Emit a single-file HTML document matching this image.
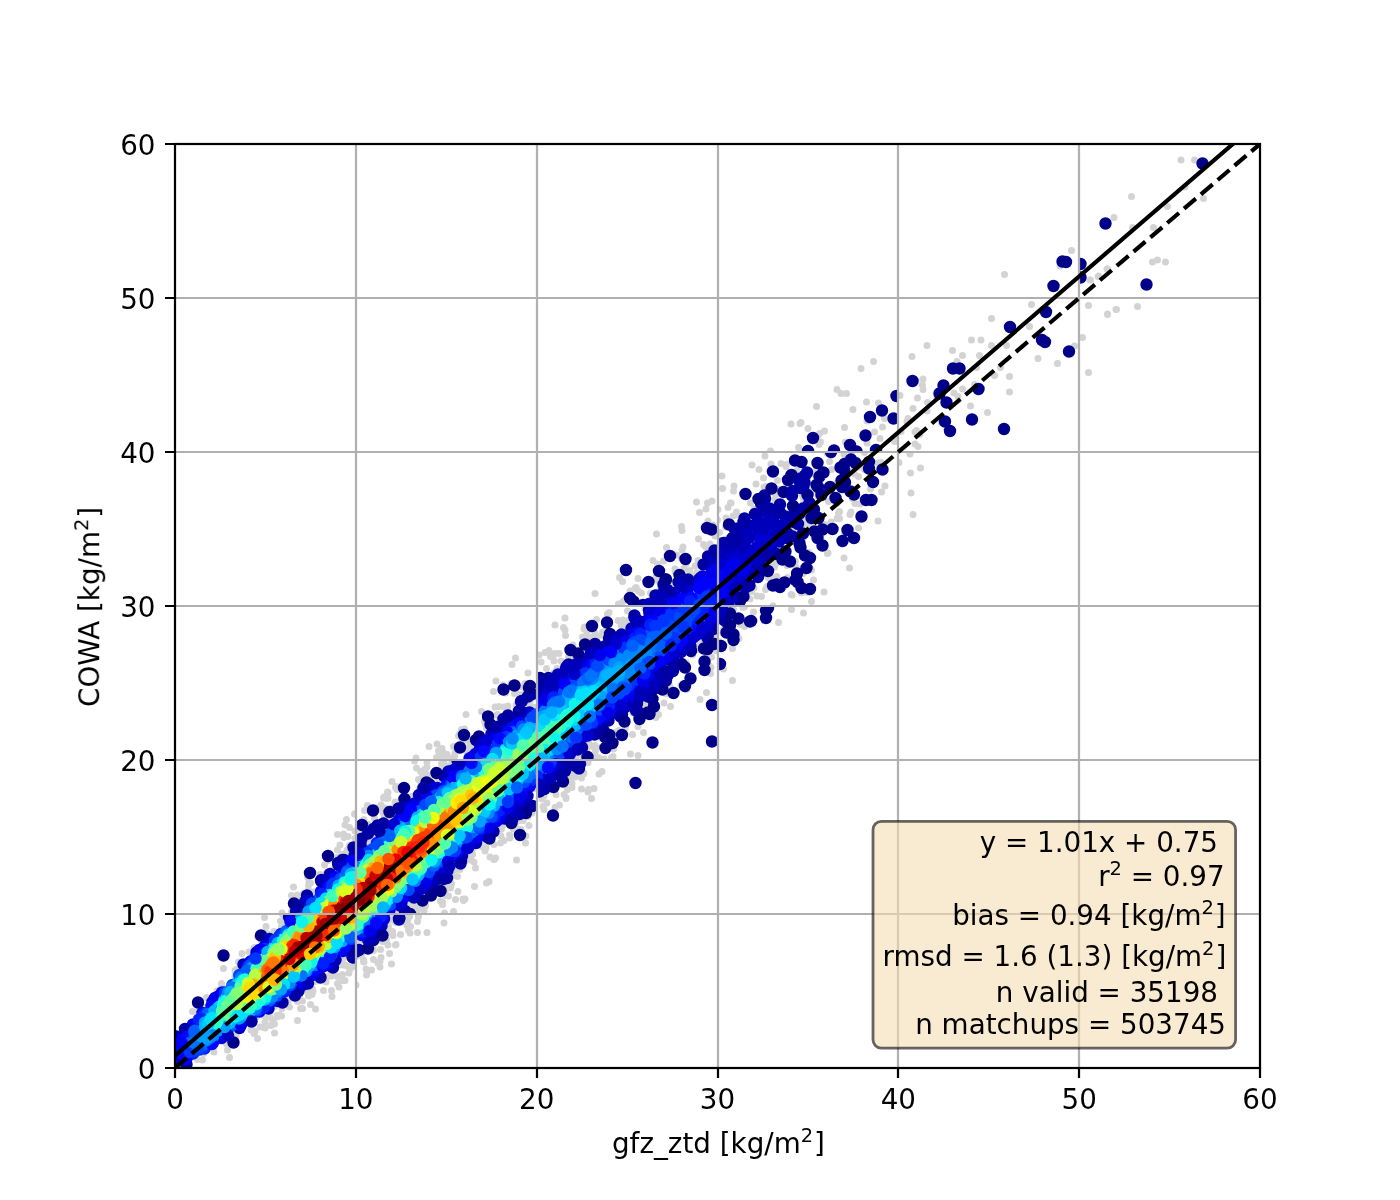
<!DOCTYPE html>
<html><head><meta charset="utf-8"><title>COWA vs gfz_ztd</title>
<style>
html,body{margin:0;padding:0;background:#fff;width:1400px;height:1200px;overflow:hidden}
svg{display:block}
text{font-family:"DejaVu Sans","Liberation Sans",sans-serif;font-size:27.78px;fill:#000}
.t{opacity:.999}
.s{font-size:19.45px}
</style></head><body>
<svg width="1400" height="1200" viewBox="0 0 1400 1200">
<defs><clipPath id="ax"><rect x="175" y="144" width="1085" height="924"/></clipPath></defs>
<rect width="1400" height="1200" fill="#fff"/>
<g clip-path="url(#ax)" fill="none" stroke-linecap="round">
<defs><clipPath id="t0"><rect x="175" y="914" width="181" height="154"/></clipPath><clipPath id="t1"><rect x="175" y="760" width="181" height="154"/></clipPath><clipPath id="t6"><rect x="356" y="914" width="181" height="154"/></clipPath><clipPath id="t7"><rect x="356" y="760" width="181" height="154"/></clipPath><clipPath id="t8"><rect x="356" y="606" width="181" height="154"/></clipPath><clipPath id="t13"><rect x="537" y="760" width="181" height="154"/></clipPath><clipPath id="t14"><rect x="537" y="606" width="181" height="154"/></clipPath><clipPath id="t15"><rect x="537" y="452" width="181" height="154"/></clipPath><clipPath id="t20"><rect x="718" y="606" width="180" height="154"/></clipPath><clipPath id="t21"><rect x="718" y="452" width="180" height="154"/></clipPath><clipPath id="t22"><rect x="718" y="298" width="180" height="154"/></clipPath><clipPath id="t27"><rect x="898" y="452" width="181" height="154"/></clipPath><clipPath id="t28"><rect x="898" y="298" width="181" height="154"/></clipPath><clipPath id="t29"><rect x="898" y="144" width="181" height="154"/></clipPath><clipPath id="t34"><rect x="1079" y="298" width="181" height="154"/></clipPath><clipPath id="t35"><rect x="1079" y="144" width="181" height="154"/></clipPath></defs>
<g stroke-width="12.4">
<g clip-path="url(#t0)">
<path stroke="#d3d3d3" stroke-width="7" d="M178 1065.5h0m4.5 0h0m9.5-8.5h0m.5-45.5h0m1.5 45.5h0m1.5-.5h0m2 3h0m1-48.5h0m4 49h0m1-6.5h0m1-46h0m1.5 1.5h0m.5-11.5h0m6 50.5h0m1.5 4h0m3-61h0m3.5-1.5h0m1-6h0m2-15h0m0 19.5h0m1.5 54h0m1.5 2h0m1 6h0m.5-62.5h0m1.5 56.5h0m0 13.5h0m2.5-23h0m2.5-5h0m.5-59h0m0 5.5h0m0 .5h0m1-2.5h0m0 5h0m0 57h0m.5-66.5h0m2-7.5h0m1.5 3.5h0m2-12h0m7-1.5h0m2 78h0m.5-4.5h0m2.5-77.5h0m0 85.5h0m.5-86h0m.5 84h0m1.5-14.5h0m1-80h0m0 101.5h0m2.5-11.5h0m1.5-84.5h0m2 73h0m1-98h0m.5 104.5h0m0 6h0m.5-95h0m.5-6.5h0m1 90.5h0m1-83h0m0 82h0m1.5-3.5h0m0 4h0m.5-5h0m1 14h0m1.5-5.5h0m1.5-88.5h0m.5 75h0m0 17.5h0m0 9h0m2.5-17.5h0m0 1.5h0m2.5-2h0m1-94h0m1 5.5h0m0 89.5h0m.5-7.5h0m.5-94.5h0m1 12.5h0m1.5-1.5h0m1-7h0m1.5 83.5h0m.5-3.5h0m0 3.5h0m1.5 5.5h0m7.5-9h0m.5 3.5h0m0 19h0m2-25h0m0 1h0m1 12h0m2-7.5h0m0 7.5h0m3-20h0m2.5 4.5h0m.5 3h0m1.5-4.5h0m.5 13h0m1.5-10h0m.5-5.5h0m.5 2h0m2-9.5h0m.5 27.5h0m1-28.5h0m.5 .5h0m5-6.5h0m1.5 16h0m2.5-8.5h0m1-5.5h0m1 0h0m3-5h0m.5 4.5h0m0 14.5h0m.5 6h0m1-21h0m4.5 1h0m0 7h0m1.5 3.5h0m2-22.5h0m.5-4h0m1 4.5h0m0 9.5h0m0 6h0m1.5-23h0m0 7h0m1 16h0m1-15h0m2 1h0m1 6.5h0m1-4h0m2-2h0m2.5-3h0"/>
<path stroke="#0000d1" d="M176 1056h0m1.5 3h0m3 1h0m41-22h0m38-88h0"/>
<path stroke="#0020ff" d="M190 1053.5h0m1 .5h0m2-.5h0m11.5-5h0m51-91h0"/>
<path stroke="#0000a4" d="M176.5 1036.5h0m122-45.5h0m22-13.5h0m12.5-10h0m19.5-10.5h0"/>
<path stroke="#0000ed" d="M177.5 1048.5h0m5.5-11.5h0m10-12.5h0m22-26.5h0m97.5-23h0m2-2.5h0"/>
<path stroke="#000089" d="M198 1002.5h0m25.5-47h0m10 87h0m27.5-107h0"/>
<path stroke="#00b" d="M239.5 1028h0m30-89h0m8.5 62h0m52-35.5h0"/>
<path stroke="#0008ff" d="M181 1051h0m.5 2h0m69-91.5h0m24 39h0m40-30h0"/>
<path stroke="#0048ff" d="M232.5 985h0m20.5 28.5h0m2-2.5h0"/>
<path stroke="#00f" d="M181.5 1041.5h0m40.5-49h0m131.5-51h0"/>
<path stroke="#0060ff" d="M196 1030.5h0m33-3h0m6-3.5h0"/>
<path stroke="#0020ff" d="M281 934h0m68 8h0m6-4.5h0"/>
<path stroke="#0000ed" d="M202.5 1013h0m62.5-67h0m78 5h0"/>
<path stroke="#0034ff" d="M203.5 1047h0m2.5-33.5h0m73.5-77.5h0"/>
<path stroke="#0000d1" d="M186 1060.5h0m70.5-108h0m47 32h0"/>
<path stroke="#0000a4" d="M185 1029h0m1.5 35.5h0m96-62h0"/>
<path stroke="#0008ff" d="M187 1037h0m26 5.5h0m6.5-46.5h0m122-46.5h0"/>
<path stroke="#00f" d="M301.5 981.5h0m3-1.5h0m40.5-32h0"/>
<path stroke="#0074ff" d="M213 1037h0m88-121h0"/>
<path stroke="#08f" d="M238 982.5h0m64-65.5h0m3-2.5h0m27.5 35.5h0"/>
<path stroke="#0000a4" d="M289 917h0m63 34h0m1 6.5h0"/>
<path stroke="#00b" d="M243.5 964.5h0m25 44h0"/>
<path stroke="#00b4ff" d="M229.5 1023h0m70.5-102h0"/>
<path stroke="#0cf4eb" d="M283.5 939h0m17.5-16.5h0"/>
<path stroke="#1cffdb" d="M307 917.5h0m13.5 37.5h0"/>
<path stroke="#0000ed" d="M212.5 1002h0m5-5h0m112.5-35.5h0"/>
<path stroke="#0034ff" d="M265 949h0m78-3h0"/>
<path stroke="#0008ff" d="M211.5 1006h0m55.5-.5h0m78-58.5h0"/>
<path stroke="#0020ff" d="M203 1015.5h0m45-49h0m6-6.5h0"/>
<path stroke="#0048ff" d="M202.5 1046h0m74-50h0"/>
<path stroke="#0034ff" d="M195.5 1051h0m4-1.5h0m40-74.5h0m44 16.5h0"/>
<path stroke="#0060ff" d="M190.5 1042.5h0m4-9.5h0m13-19h0"/>
<path stroke="#0048ff" d="M190 1049h0m3 1h0m46.5-74h0"/>
<path stroke="#00f" d="M182 1043.5h0m42.5-8.5h0m35-23.5h0"/>
<path stroke="#00b4ff" d="M209.5 1018.5h0m8.5 12h0m57-85.5h0"/>
<path stroke="#0074ff" d="M272.5 996.5h0m42.5-31.5h0"/>
<path stroke="#08f" d="M198.5 1031.5h0m23-2h0m56.5-38h0m28.5-20.5h0"/>
<path stroke="#0060ff" d="M202.5 1045h0m67-44.5h0m49-38h0"/>
<path stroke="#00e0fb" d="M214.5 1029.5h0m136-97.5h0"/>
<path stroke="#00c8ff" d="M224.5 1000h0m12-15h0"/>
<path stroke="#0048ff" d="M242 974.5h0m15.5 35.5h0"/>
<path stroke="#0034ff" d="M201.5 1018.5h0m73.5-78.5h0"/>
<path stroke="#00b4ff" d="M304.5 970.5h0m.5-1h0"/>
<path stroke="#00b" d="M228 1035.5h0m80-52h0"/>
<path stroke="#08f" d="M250 1012h0m22-15.5h0"/>
<path stroke="#ff9f00" d="M318.5 917.5h0"/>
<path stroke="#0000a4" d="M295 995.5h0"/>
<path stroke="#0000ed" d="M186 1059.5h0"/>
<path stroke="#83ff73" d="M314 955.5h0"/>
<path stroke="#00f" d="M327.5 961.5h0"/>
<path stroke="#0008ff" d="M212 1044h0"/>
<path stroke="#a7ff50" d="M351 924.5h0"/>
<path stroke="#00a0ff" d="M342.5 941h0"/>
<path stroke="#0cf4eb" d="M224 1002.5h0"/>
<path stroke="#00c8ff" d="M218 1008h0m1.5-1.5h0m32 3h0"/>
<path stroke="#08f" d="M206 1040.5h0m37.5-23.5h0m2-2.5h0"/>
<path stroke="#0074ff" d="M210 1038h0m31-60.5h0"/>
<path stroke="#1cffdb" d="M248.5 1008.5h0m37-70.5h0"/>
<path stroke="#00e0fb" d="M243 980h0m30.5-31.5h0"/>
<path stroke="#0020ff" d="M199 1019.5h0m64.5-12h0"/>
<path stroke="#00b4ff" d="M214.5 1011h0m50.5-11.5h0m44.5-34h0"/>
<path stroke="#0034ff" d="M189.5 1052h0m35.5-59.5h0"/>
<path stroke="#0000ed" d="M241 1025h0m82-58.5h0"/>
<path stroke="#00a0ff" d="M210.5 1035h0m28.5-16.5h0"/>
<path stroke="#00c8ff" d="M226 998.5h0m12.5-15h0"/>
<path stroke="#0cf4eb" d="M241.5 983h0m24 14h0"/>
<path stroke="#40ffb7" d="M274.5 988.5h0m32-24h0"/>
<path stroke="#caff2c" d="M278.5 980h0m36-26.5h0"/>
<path stroke="#0020ff" d="M285.5 991h0m37.5-27.5h0"/>
<path stroke="#0048ff" d="M197.5 1048.5h0m93-63.5h0"/>
<path stroke="#ff8d00" d="M321.5 916.5h0"/>
<path stroke="#00b" d="M335.5 960h0"/>
<path stroke="#b7ff40" d="M350.5 923h0"/>
<path stroke="#0060ff" d="M286.5 931h0"/>
<path stroke="#00e0fb" d="M288.5 934.5h0m14 35.5h0"/>
<path stroke="#30ffc7" d="M247 1008.5h0m56.5-41h0"/>
<path stroke="#0074ff" d="M194 1042.5h0m62-34h0"/>
<path stroke="#00a0ff" d="M200.5 1036h0m27.5-42h0"/>
<path stroke="#08f" d="M213 1035.5h0m15-43h0m61.5-9.5h0"/>
<path stroke="#dbff1c" d="M276 981.5h0m11.5-8.5h0"/>
<path stroke="#1cffdb" d="M226.5 1000.5h0m97.5-49.5h0"/>
<path stroke="#0cf4eb" d="M250 1008h0m6.5-4h0"/>
<path stroke="#00f" d="M262 950h0"/>
<path stroke="#00b4ff" d="M230 1022.5h0"/>
<path stroke="#0000a4" d="M251.5 1021.5h0"/>
<path stroke="#feed00" d="M261 990h0"/>
<path stroke="#ff5200" d="M319 921h0"/>
<path stroke="#ffdb00" d="M346.5 924h0"/>
<path stroke="#0008ff" d="M290.5 921.5h0"/>
<path stroke="#0060ff" d="M194.5 1031h0"/>
<path stroke="#0074ff" d="M232 987.5h0"/>
<path stroke="#40ffb7" d="M227 1002.5h0"/>
<path stroke="#63ff94" d="M313 957.5h0"/>
<path stroke="#50ffa7" d="M240.5 986.5h0m63.5-21.5h0"/>
<path stroke="#0034ff" d="M331.5 954.5h0"/>
<path stroke="#00c8ff" d="M261.5 960h0"/>
<path stroke="#00e0fb" d="M226.5 1022h0"/>
<path stroke="#30ffc7" d="M225.5 1019h0m40.5-61h0"/>
<path stroke="#00a0ff" d="M241 1016.5h0"/>
<path stroke="#ffc800" d="M314.5 920.5h0"/>
<path stroke="#97ff60" d="M343.5 930h0"/>
<path stroke="#0048ff" d="M250.5 965h0m100.5-26.5h0"/>
<path stroke="#0cf4eb" d="M223 1005h0"/>
<path stroke="#0074ff" d="M301.5 975.5h0"/>
<path stroke="#dbff1c" d="M242.5 992.5h0"/>
<path stroke="#00b4ff" d="M230.5 992h0m37-40h0"/>
<path stroke="#40ffb7" d="M224.5 1019.5h0m50-69.5h0"/>
<path stroke="#73ff83" d="M228 1013h0m95.5-64.5h0"/>
<path stroke="#00a0ff" d="M224.5 1027h0m110-80h0"/>
<path stroke="#00e0fb" d="M242.5 1013h0"/>
<path stroke="#73ff83" d="M232 1011h0m4-1h0"/>
<path stroke="#d10000" d="M322.5 922h0"/>
<path stroke="#ff6400" d="M345.5 919.5h0"/>
<path stroke="#08f" d="M252 967.5h0"/>
<path stroke="#83ff73" d="M234.5 997h0"/>
<path stroke="#00b4ff" d="M268 952.5h0"/>
<path stroke="#50ffa7" d="M251.5 1004h0m23-53h0"/>
<path stroke="#1cffdb" d="M216.5 1023h0m43.5-22.5h0"/>
<path stroke="#00a0ff" d="M205 1022.5h0m46.5-54h0"/>
<path stroke="#00b4ff" d="M205 1026.5h0m42-53h0m31-30.5h0"/>
<path stroke="#b7ff40" d="M319.5 950h0"/>
<path stroke="#0cf4eb" d="M235.5 1016.5h0"/>
<path stroke="#ff3b00" d="M325 916h0"/>
<path stroke="#ff5200" d="M342 922h0"/>
<path stroke="#feed00" d="M244 993h0"/>
<path stroke="#30ffc7" d="M217.5 1019h0"/>
<path stroke="#0060ff" d="M247 970.5h0"/>
<path stroke="#00a0ff" d="M207 1038h0"/>
<path stroke="#40ffb7" d="M288 937h0"/>
<path stroke="#63ff94" d="M273.5 953h0"/>
<path stroke="#ffb200" d="M318 947.5h0"/>
<path stroke="#ffdb00" d="M247 990.5h0m68.5-41h0"/>
<path stroke="#0020ff" d="M330 957h0"/>
<path stroke="#d10000" d="M341 918h0"/>
<path stroke="#00e0fb" d="M212.5 1018h0"/>
<path stroke="#73ff83" d="M292.5 935h0"/>
<path stroke="#50ffa7" d="M276.5 949h0"/>
<path stroke="#dbff1c" d="M312 953.5h0"/>
<path stroke="#ffb200" d="M318.5 946.5h0m34.5-29.5h0"/>
<path stroke="#1cffdb" d="M245 979.5h0"/>
<path stroke="#feed00" d="M259 991.5h0"/>
<path stroke="#dbff1c" d="M251 997h0m7.5-4h0"/>
<path stroke="#30ffc7" d="M217.5 1020.5h0m30.5-13h0"/>
<path stroke="#00e0fb" d="M239 1015h0m92-67.5h0"/>
<path stroke="#b7ff40" d="M270.5 959h0m56-15h0"/>
<path stroke="#ffb200" d="M258.5 989h0m60.5-43h0"/>
<path stroke="#9f0000" d="M334 919h0"/>
<path stroke="#40ffb7" d="M285.5 939h0"/>
<path stroke="#a7ff50" d="M304.5 961.5h0"/>
<path stroke="#00c8ff" d="M208.5 1024h0"/>
<path stroke="#50ffa7" d="M222 1011h0"/>
<path stroke="#1cffdb" d="M224 1003.5h0m59-62.5h0"/>
<path stroke="#73ff83" d="M227.5 1006h0m43.5-16.5h0"/>
<path stroke="#63ff94" d="M226 1010.5h0m38.5-49.5h0"/>
<path stroke="#d10000" d="M320.5 935.5h0"/>
<path stroke="#ffdb00" d="M246.5 993.5h0"/>
<path stroke="#b7ff40" d="M248 983h0m51-18.5h0"/>
<path stroke="#00e0fb" d="M210.5 1019.5h0"/>
<path stroke="#97ff60" d="M285.5 942.5h0"/>
<path stroke="#40ffb7" d="M256.5 968.5h0"/>
<path stroke="#ff9f00" d="M271 964.5h0"/>
<path stroke="#9f0000" d="M325.5 924h0"/>
<path stroke="#ffb200" d="M329.5 937h0"/>
<path stroke="#ff1600" d="M315 942.5h0"/>
<path stroke="#feed00" d="M246.5 997h0"/>
<path stroke="#73ff83" d="M294.5 971h0"/>
<path stroke="#0cf4eb" d="M311.5 962h0"/>
<path stroke="#83ff73" d="M288.5 939.5h0"/>
<path stroke="#ffdb00" d="M284 948h0m3-2h0"/>
<path stroke="#0034ff" d="M255.5 958.5h0"/>
<path stroke="#b7ff40" d="M256 974.5h0"/>
<path stroke="#ff5200" d="M277.5 973h0"/>
<path stroke="#9f0000" d="M328 925h0"/>
<path stroke="#30ffc7" d="M338.5 938.5h0"/>
<path stroke="#b00" d="M318.5 936.5h0"/>
<path stroke="#caff2c" d="M239 996.5h0"/>
<path stroke="#00c8ff" d="M294 976.5h0"/>
<path stroke="#00e0fb" d="M284 984.5h0m53-41.5h0"/>
<path stroke="#ff3b00" d="M296.5 942h0"/>
<path stroke="#ffb200" d="M259.5 976h0"/>
<path stroke="#ff8d00" d="M258.5 985h0m1 1h0"/>
<path stroke="#0060ff" d="M350.5 937h0"/>
<path stroke="#9f0000" d="M317 931.5h0"/>
<path stroke="#b7ff40" d="M237.5 1004h0"/>
<path stroke="#f70" d="M283 971h0"/>
<path stroke="#ff1600" d="M290 961.5h0m12-9h0"/>
<path stroke="#00a0ff" d="M281 989.5h0"/>
<path stroke="#40ffb7" d="M293.5 931.5h0"/>
<path stroke="#ff6400" d="M264.5 979.5h0"/>
<path stroke="#b7ff40" d="M255 975.5h0m42.5-9.5h0"/>
<path stroke="#e80000" d="M313 943.5h0"/>
<path stroke="#73ff83" d="M236.5 993.5h0"/>
<path stroke="#ff2900" d="M276.5 965h0"/>
<path stroke="#ff5200" d="M292.5 946h0"/>
<path stroke="#ffb200" d="M254 984.5h0m44.5-48h0"/>
<path stroke="#a7ff50" d="M275.5 953h0m29-27h0"/>
<path stroke="#9f0000" d="M314 934.5h0m3.5 2h0"/>
<path stroke="#dbff1c" d="M268.5 987h0"/>
<path stroke="#40ffb7" d="M305.5 964.5h0"/>
<path stroke="#63ff94" d="M231 1000.5h0"/>
<path stroke="#83ff73" d="M238 993.5h0m38-9h0"/>
<path stroke="#ff8d00" d="M267 969.5h0"/>
<path stroke="#ff3b00" d="M288.5 950.5h0"/>
<path stroke="#f70" d="M299.5 938h0"/>
<path stroke="#ff2900" d="M292 947h0m34-12h0"/>
<path stroke="#caff2c" d="M248 984h0"/>
<path stroke="#ff1600" d="M280 960.5h0"/>
<path stroke="#ff9f00" d="M293 965h0"/>
<path stroke="#ff6400" d="M268 970h0"/>
<path stroke="#ff8d00" d="M300 936.5h0"/>
<path stroke="#ebff0c" d="M336.5 933h0"/>
<path stroke="#ffc800" d="M250 988h0"/>
<path stroke="#ffdb00" d="M250.5 987.5h0m3 6h0"/>
<path stroke="#ffb200" d="M273.5 961h0"/>
<path stroke="#ff6400" d="M269.5 968h0m64.5-37.5h0"/>
<path stroke="#9f0000" d="M305.5 946h0m27-27.5h0"/>
<path stroke="#73ff83" d="M301 926.5h0"/>
<path stroke="#ff2900" d="M275.5 971.5h0"/>
<path stroke="#97ff60" d="M346 928.5h0"/>
<path stroke="#b00" d="M306.5 938h0"/>
<path stroke="#f70" d="M272.5 964h0"/>
<path stroke="#ffc800" d="M273.5 980h0m1.5-22.5h0"/>
<path stroke="#ffb200" d="M308.5 926h0"/>
<path stroke="#9f0000" d="M301 947h0m15.5-11h0"/>
<path stroke="#dbff1c" d="M281.5 949h0"/>
<path stroke="#ff3b00" d="M270.5 971h0"/>
<path stroke="#f70" d="M273.5 962.5h0m41.5-15h0"/>
<path stroke="#50ffa7" d="M308 918h0"/>
<path stroke="#e80000" d="M300 953.5h0"/>
<path stroke="#97ff60" d="M278.5 949.5h0"/>
<path stroke="#ffb200" d="M275 979.5h0"/>
<path stroke="#0cf4eb" d="M302 922h0"/>
<path stroke="#ff2900" d="M294 945h0"/>
<path stroke="#ff1600" d="M292.5 960.5h0"/>
<path stroke="#ffc800" d="M310 954h0"/>
<path stroke="#9f0000" d="M298 947.5h0"/>
<path stroke="#ff9f00" d="M293.5 964h0"/>
<path stroke="#d10000" d="M289.5 959h0"/>
<path stroke="#b00" d="M294.5 951.5h0"/>
</g>
<g clip-path="url(#t1)">
<path stroke="#d3d3d3" stroke-width="7" d="M282 913h0m9.5-17.5h0m0 16h0m1-3.5h0m0 3h0m1-24h0m4 8h0m0 6.5h0m6-8h0m4-16.5h0m1 8.5h0m0 4h0m0 2.5h0m.5-10h0m1.5 1h0m1-13h0m2 22h0m.5 3.5h0m1 .5h0m4.5-19.5h0m.5-2h0m3.5 2h0m1-11.5h0m1.5 8.5h0m2-13.5h0m0 .5h0m5 9.5h0m2-3.5h0m2.5-32h0m0 15.5h0m0 7.5h0m2.5-12.5h0m2 9.5h0m1.5-20.5h0m.5 3.5h0m1-12.5h0m.5 28h0m1-33.5h0m1 30.5h0m0 3h0m0 5h0m.5-21.5h0m1.5-9h0m0 18h0m5-31.5h0m.5 17h0m0 7.5h0"/>
<path stroke="#0000a4" d="M307 895.5h0m31.5-30.5h0m4-5h0m1.5 0h0"/>
<path stroke="#00f" d="M321 891.5h0m30.5-30.5h0"/>
<path stroke="#00b" d="M296 911.5h0m9.5-10.5h0m49-45.5h0"/>
<path stroke="#000089" d="M310 873h0m18-17h0"/>
<path stroke="#0000a4" d="M321.5 880h0m32-32.5h0"/>
<path stroke="#0034ff" d="M303 911.5h0m18-16.5h0"/>
<path stroke="#ff2900" d="M350.5 913.5h0"/>
<path stroke="#00b" d="M330 874h0"/>
<path stroke="#00f" d="M329.5 883.5h0m7-6.5h0"/>
<path stroke="#0048ff" d="M314.5 901.5h0"/>
<path stroke="#890000" d="M351 906.5h0"/>
<path stroke="#0000a4" d="M321 881h0"/>
<path stroke="#0020ff" d="M340.5 875.5h0"/>
<path stroke="#0074ff" d="M318.5 901h0"/>
<path stroke="#0000a4" d="M338 863h0"/>
<path stroke="#00f" d="M334.5 878h0"/>
<path stroke="#0048ff" d="M313.5 902.5h0"/>
<path stroke="#0000d1" d="M342.5 867h0"/>
<path stroke="#00b" d="M324.5 880.5h0"/>
<path stroke="#0008ff" d="M328.5 887h0m2-1.5h0"/>
<path stroke="#00a0ff" d="M319.5 902.5h0m12-10.5h0"/>
<path stroke="#0048ff" d="M340.5 879h0m12-13h0"/>
<path stroke="#08f" d="M316.5 904h0m38.5-36h0"/>
<path stroke="#0034ff" d="M305.5 908h0m26.5-22.5h0m1.5-2h0"/>
<path stroke="#0048ff" d="M347.5 871h0"/>
<path stroke="#000089" d="M294 903.5h0"/>
<path stroke="#0000d1" d="M309 900.5h0"/>
<path stroke="#00e0fb" d="M330 895h0"/>
<path stroke="#00c8ff" d="M352.5 873.5h0"/>
<path stroke="#00f" d="M354 860.5h0"/>
<path stroke="#0000a4" d="M298.5 906.5h0"/>
<path stroke="#0048ff" d="M312 903.5h0"/>
<path stroke="#0020ff" d="M321.5 894h0"/>
<path stroke="#0074ff" d="M345.5 876.5h0"/>
<path stroke="#00a0ff" d="M308.5 911.5h0m30-26h0"/>
<path stroke="#00e0fb" d="M326 898.5h0"/>
<path stroke="#1cffdb" d="M354 874.5h0"/>
<path stroke="#83ff73" d="M328.5 901.5h0"/>
<path stroke="#0060ff" d="M347 872.5h0"/>
<path stroke="#50ffa7" d="M325 903h0"/>
<path stroke="#0cf4eb" d="M344.5 882.5h0"/>
<path stroke="#a7ff50" d="M330.5 901h0"/>
<path stroke="#1cffdb" d="M345.5 883.5h0"/>
<path stroke="#00e0fb" d="M321 903h0"/>
<path stroke="#73ff83" d="M347.5 884h0"/>
<path stroke="#dbff1c" d="M326 907.5h0"/>
<path stroke="#b7ff40" d="M321.5 910h0m2-1.5h0"/>
<path stroke="#00b4ff" d="M351 874h0"/>
<path stroke="#0cf4eb" d="M338 889.5h0"/>
<path stroke="#00e0fb" d="M315.5 908h0"/>
<path stroke="#dbff1c" d="M330 904h0"/>
<path stroke="#ff9f00" d="M355.5 885.5h0"/>
<path stroke="#83ff73" d="M341 891.5h0"/>
<path stroke="#ff3b00" d="M334 907.5h0"/>
<path stroke="#40ffb7" d="M353.5 877.5h0"/>
<path stroke="#ff8d00" d="M334.5 904h0"/>
<path stroke="#ffdb00" d="M341 897h0"/>
<path stroke="#40ffb7" d="M332.5 896h0"/>
<path stroke="#9f0000" d="M343 906h0"/>
<path stroke="#b7ff40" d="M342 892.5h0"/>
<path stroke="#e80000" d="M334 910.5h0"/>
<path stroke="#9f0000" d="M341.5 908h0"/>
<path stroke="#890000" d="M348 907h0m3.5-2h0"/>
<path stroke="#9f0000" d="M337.5 910.5h0m17.5-15.5h0"/>
<path stroke="#d10000" d="M333 912.5h0"/>
<path stroke="#ff3b00" d="M329.5 912h0m15-12.5h0"/>
<path stroke="#890000" d="M339.5 911h0m4-3.5h0"/>
<path stroke="#ff5200" d="M328.5 912h0m.5 0h0"/>
<path stroke="#dbff1c" d="M347.5 888.5h0"/>
<path stroke="#d10000" d="M346 901.5h0"/>
<path stroke="#890000" d="M342 913h0m1.5-4h0"/>
<path stroke="#1cffdb" d="M350 879.5h0"/>
<path stroke="#dbff1c" d="M345 891.5h0"/>
<path stroke="#e80000" d="M347.5 913.5h0"/>
<path stroke="#0cf4eb" d="M351 877.5h0"/>
<path stroke="#9f0000" d="M348.5 901h0"/>
</g>
<g clip-path="url(#t6)">
<path stroke="#d3d3d3" stroke-width="7" d="M356 985h0m.5-47.5h0m0 19h0m.5-15h0m1 14h0m.5-16h0m2.5 1h0m.5 14h0m1-13.5h0m1 19h0m0 1.5h0m.5 .5h0m2 7h0m.5 6h0m5-5h0m1.5-22.5h0m.5 3h0m0 9h0m4.5 3.5h0m2-1.5h0m0 5.5h0m.5-17.5h0m.5 8h0m.5-19h0m1 3h0m4-17.5h0m0 15.5h0m1-20.5h0m.5 3h0m0 23h0m.5-18.5h0m0 5.5h0m1-13.5h0m0 35h0m1.5-34.5h0m.5 45h0m1-32.5h0m.5-17h0m0 21h0m.5-17.5h0m1.5 3.5h0m.5 23.5h0m.5-22.5h0m0 22h0m4.5-10h0m.5-12.5h0m6 3.5h0m.5-5h0m1 9.5h0m1-13.5h0m.5 16.5h0m.5-6.5h0m7-5h0m0 11h0m1-16h0m8.5 16h0m17-9.5h0"/>
<path stroke="#0000a4" d="M359 950h0m14.5-10h0m25.5-21h0m0 .5h0m.5-1.5h0"/>
<path stroke="#0000d1" d="M384 919h0"/>
<path stroke="#00b" d="M374 933h0m7.5-7h0"/>
<path stroke="#000089" d="M368 948.5h0"/>
<path stroke="#0008ff" d="M383.5 915h0"/>
<path stroke="#0000ed" d="M372.5 929h0"/>
<path stroke="#00b" d="M368 939.5h0m1-2h0"/>
<path stroke="#0000d1" d="M377 925.5h0m3.5-1h0"/>
<path stroke="#00f" d="M361.5 935h0m10.5-8.5h0"/>
<path stroke="#0020ff" d="M362.5 931.5h0m18-15h0"/>
<path stroke="#0000a4" d="M356 951.5h0"/>
<path stroke="#000089" d="M382.5 935.5h0"/>
<path stroke="#08f" d="M361 927.5h0"/>
<path stroke="#00e0fb" d="M368.5 917h0"/>
<path stroke="#00a0ff" d="M369.5 919h0"/>
<path stroke="#00e0fb" d="M360 924h0"/>
<path stroke="#00b4ff" d="M356 929.5h0"/>
<path stroke="#0060ff" d="M370.5 921.5h0"/>
<path stroke="#50ffa7" d="M365.5 915.5h0"/>
<path stroke="#0074ff" d="M368 923h0"/>
<path stroke="#50ffa7" d="M362 917.5h0m1.5-1h0"/>
<path stroke="#0008ff" d="M376 923h0"/>
<path stroke="#dbff1c" d="M357 916.5h0"/>
<path stroke="#0000ed" d="M369.5 931h0"/>
<path stroke="#30ffc7" d="M357.5 924.5h0"/>
<path stroke="#a7ff50" d="M362.5 914.5h0"/>
<path stroke="#30ffc7" d="M356 925h0"/>
</g>
<g clip-path="url(#t7)">
<path stroke="#d3d3d3" stroke-width="7" d="M357.5 836h0m2-4h0m3-11.5h0m1.5-1h0m.5-9h0m0 22h0m3-27h0m1 19h0m0 19.5h0m2.5-6h0m0 2h0m1 6h0m2-32h0m.5 4.5h0m0 19.5h0m1.5-16h0m.5 11.5h0m1-24.5h0m.5-1.5h0m3-2.5h0m1.5 3.5h0m.5 4h0m.5-14.5h0m.5-1h0m0 18.5h0m.5-7.5h0m1.5 .5h0m1-10h0m.5-6.5h0m.5 .5h0m0 5.5h0m2.5 19.5h0m1.5-36h0m.5 26.5h0m2 104h0m.5-110h0m0 .5h0m.5-15h0m.5-1h0m1 3h0m3.5-2h0m0 124.5h0m.5-112.5h0m7 104h0m3-107h0m1.5 .5h0m0 111.5h0m.5-7h0m1.5-140.5h0m2 7h0m.5 139h0m0 6h0m1.5-133.5h0m1 9.5h0m.5-1h0m0 120h0m.5-136.5h0m.5 12h0m1 125h0m.5-132h0m.5-1.5h0m0 118.5h0m.5-114.5h0m.5 131.5h0m.5-141h0m1 3h0m0 133.5h0m1.5-144h0m0 5h0m3 9h0m3-3h0m5 6.5h0m2.5 121.5h0m1-137h0m0 19.5h0m1 118.5h0m0 2.5h0m.5-121h0m0 102h0m1-125h0m0 8.5h0m.5 144h0m.5-20.5h0m1-9h0m0 4h0m0 8h0m1-129.5h0m1.5 130h0m1.5-16h0m.5 8h0m.5-122h0m.5 118h0m.5-122.5h0m0 5.5h0m1 109h0m.5 35.5h0m2-42h0m0 30h0m2-23h0m.5 15h0m2-22h0m3 29.5h0m.5 1.5h0m1.5-1.5h0m1-46.5h0m0 8h0m2.5-5.5h0m2.5 5h0m1.5-11h0m0 5.5h0m1.5 7.5h0m.5 24.5h0m1-18.5h0m6-21.5h0m3-6.5h0m.5 11h0m1-3.5h0m.5 35.5h0m2.5-1.5h0m1-24.5h0m4-12.5h0m0 15h0m1.5-1.5h0m5-15h0m.5-7h0m.5-7h0m1.5-4h0m1 15.5h0m2-18.5h0m1.5 1.5h0m2 11.5h0m.5 3h0m3.5-9h0m1.5-4.5h0m1.5 3.5h0m0 32h0m3-39.5h0m1.5 9h0m2-9h0m2.5 22.5h0m.5-7h0m2-19.5h0m1 9h0m3-12.5h0m2.5-24.5h0"/>
<path stroke="#0000a4" d="M361 839h0m.5 0h0m12-10h0m4-3.5h0m52-41h0m2.5 102h0m15-8.5h0m10.5-117.5h0m3.5 100.5h0m29.5-27h0m3-2.5h0"/>
<path stroke="#000089" d="M362 825h0m11-14.5h0m31-22.5h0m.5 11h0m5.5 115h0m16.5-131.5h0m4.5 113h0m9.5-4.5h0m79.5-56h0m12.5-29h0"/>
<path stroke="#00b" d="M407 807.5h0m37-31.5h0m3.5 94.5h0m14.5-14.5h0m14-13h0m29-24.5h0"/>
<path stroke="#0000d1" d="M414.5 803.5h0m0 .5h0m8.5 84h0m9.5-98.5h0m10 79.5h0m.5 2h0m11-101h0m7-4h0m27.5 62.5h0m11-10h0m1.5 0h0"/>
<path stroke="#0000ed" d="M396.5 823h0m3-4h0m17.5-15.5h0m38.5 52.5h0m40.5-34.5h0"/>
<path stroke="#000089" d="M389.5 812h0m33 88.5h0m14-127.5h0m53 65.5h0m22-15.5h0"/>
<path stroke="#0000a4" d="M368 833.5h0m37 77.5h0m82.5-74h0m25-18h0m18.5-13h0"/>
<path stroke="#00f" d="M431 877h0m38-34.5h0m9.5-10h0m51-46h0m1-2h0"/>
<path stroke="#00b" d="M400 905.5h0m3-98h0m16-12.5h0m41.5-33.5h0m60.5 41.5h0m6.5-7h0"/>
<path stroke="#0008ff" d="M447 784.5h0m14 63.5h0m36.5-31.5h0m4-5h0"/>
<path stroke="#0020ff" d="M367.5 851.5h0m9.5-8.5h0m26.5-21h0"/>
<path stroke="#0074ff" d="M381.5 911h0m23-85.5h0m65-54.5h0"/>
<path stroke="#0000ed" d="M437.5 788h0m40.5 49h0m58-55.5h0"/>
<path stroke="#0000d1" d="M434.5 788.5h0m6.5 83h0m77-70h0"/>
<path stroke="#0060ff" d="M421 810.5h0m53 20h0m36-35.5h0"/>
<path stroke="#0034ff" d="M392 831.5h0m43.5-36h0m71 5.5h0m24-20.5h0"/>
<path stroke="#0048ff" d="M373 849h0m64-54h0m14.5-11h0m16 52.5h0"/>
<path stroke="#00f" d="M389.5 910h0m110.5-95.5h0"/>
<path stroke="#0020ff" d="M442 862h0m39-33.5h0m13-11.5h0m5.5-6.5h0"/>
<path stroke="#0000ed" d="M409 809h0m17.5-12.5h0m62 31h0"/>
<path stroke="#0000a4" d="M360.5 845h0m23-21.5h0m40-35.5h0"/>
<path stroke="#0074ff" d="M437 861.5h0m16-77h0m33 32.5h0"/>
<path stroke="#0060ff" d="M391 834.5h0m50 24.5h0m30.5-26.5h0"/>
<path stroke="#00a0ff" d="M398.5 832.5h0m51-42h0m23 36.5h0m12.5-11.5h0"/>
<path stroke="#00e0fb" d="M471.5 776h0m28 20h0"/>
<path stroke="#0008ff" d="M453 854.5h0m73-69h0"/>
<path stroke="#0048ff" d="M390.5 904.5h0m88.5-77h0m47-46h0"/>
<path stroke="#08f" d="M406 825h0m50.5 18h0m6-5h0"/>
<path stroke="#0000d1" d="M381.5 835h0m20 67.5h0m66.5-54.5h0"/>
<path stroke="#0060ff" d="M385 840h0m61 14.5h0m32-29h0m56-52.5h0"/>
<path stroke="#00c8ff" d="M422 814.5h0m35 24.5h0"/>
<path stroke="#0074ff" d="M400 828.5h0m55.5-46h0"/>
<path stroke="#00f" d="M406 896h0m5-86h0m42-32.5h0"/>
<path stroke="#00b4ff" d="M405 828h0m77-63.5h0"/>
<path stroke="#00b" d="M437.5 879h0m11-107.5h0"/>
<path stroke="#0034ff" d="M367.5 853h0m42.5-37h0"/>
<path stroke="#00a0ff" d="M494 806h0m41.5-40.5h0"/>
<path stroke="#08f" d="M386 841h0m61-50h0m86.5-22h0"/>
<path stroke="#0cf4eb" d="M388 899.5h0m111-103.5h0m31-31.5h0"/>
<path stroke="#00c8ff" d="M398.5 891.5h0m84.5-127h0m7 43h0"/>
<path stroke="#73ff83" d="M477.5 811h0m26-27h0"/>
<path stroke="#0000ed" d="M359 856h0m163-62h0"/>
<path stroke="#1cffdb" d="M440 851.5h0m27-24.5h0"/>
<path stroke="#00e0fb" d="M378.5 852h0m48.5-41h0m10 45.5h0"/>
<path stroke="#0000d1" d="M394 824.5h0m59-54h0"/>
<path stroke="#0074ff" d="M396.5 897h0m13.5-77h0"/>
<path stroke="#00b4ff" d="M381 908h0m4.5-4h0"/>
<path stroke="#40ffb7" d="M373 909.5h0m106-135.5h0"/>
<path stroke="#00f" d="M405.5 816h0m2-1.5h0"/>
<path stroke="#0000a4" d="M398.5 808.5h0m45 70.5h0"/>
<path stroke="#a7ff50" d="M506.5 764h0"/>
<path stroke="#000089" d="M526 813h0"/>
<path stroke="#0020ff" d="M427.5 875.5h0"/>
<path stroke="#0000ed" d="M425.5 882.5h0m22.5-20.5h0"/>
<path stroke="#00a0ff" d="M435.5 860h0m5.5-64h0"/>
<path stroke="#0048ff" d="M427.5 872.5h0m16-81.5h0m48 25.5h0"/>
<path stroke="#08f" d="M397 896h0m36-94.5h0m16 48.5h0m39.5-37h0"/>
<path stroke="#0000a4" d="M460.5 863.5h0m59-49.5h0"/>
<path stroke="#00b" d="M449.5 866h0m65-55h0"/>
<path stroke="#50ffa7" d="M522.5 765.5h0"/>
<path stroke="#83ff73" d="M402 881h0"/>
<path stroke="#0060ff" d="M364.5 856.5h0"/>
<path stroke="#0008ff" d="M525.5 786h0"/>
<path stroke="#0000ed" d="M508.5 807.5h0m11-11h0"/>
<path stroke="#30ffc7" d="M423 816.5h0"/>
<path stroke="#0048ff" d="M425.5 805h0m99-23h0"/>
<path stroke="#00b4ff" d="M499.5 800h0m18.5-20.5h0"/>
<path stroke="#caff2c" d="M479.5 804h0m12.5-13.5h0"/>
<path stroke="#00c8ff" d="M473.5 773h0m11 39h0"/>
<path stroke="#00a0ff" d="M418.5 875h0m61.5-53.5h0"/>
<path stroke="#0074ff" d="M442.5 794h0m86-19h0"/>
<path stroke="#0034ff" d="M455 851h0m53-49h0"/>
<path stroke="#1cffdb" d="M401.5 834.5h0"/>
<path stroke="#00a0ff" d="M400.5 830.5h0m47-39h0"/>
<path stroke="#ff2900" d="M362 903.5h0"/>
<path stroke="#b7ff40" d="M487.5 776h0"/>
<path stroke="#63ff94" d="M391.5 891.5h0"/>
<path stroke="#08f" d="M368.5 856h0"/>
<path stroke="#50ffa7" d="M379.5 854h0m111.5-55h0"/>
<path stroke="#00e0fb" d="M361 867h0m7.5-7h0"/>
<path stroke="#73ff83" d="M471.5 817.5h0"/>
<path stroke="#0000ed" d="M425 883.5h0"/>
<path stroke="#0cf4eb" d="M527 767h0"/>
<path stroke="#40ffb7" d="M449.5 840.5h0"/>
<path stroke="#00c8ff" d="M448 793.5h0"/>
<path stroke="#00b4ff" d="M379.5 848h0m77-62.5h0"/>
<path stroke="#83ff73" d="M386.5 895h0m69.5-100h0"/>
<path stroke="#0cf4eb" d="M386.5 900h0m52.5-98h0"/>
<path stroke="#ff1600" d="M360.5 904.5h0"/>
<path stroke="#30ffc7" d="M372 911.5h0"/>
<path stroke="#a7ff50" d="M364.5 912.5h0m153.5-152.5h0"/>
<path stroke="#1cffdb" d="M482.5 768.5h0"/>
<path stroke="#08f" d="M356.5 867.5h0"/>
<path stroke="#0048ff" d="M429 871.5h0"/>
<path stroke="#0060ff" d="M380.5 843.5h0m53.5 22h0"/>
<path stroke="#30ffc7" d="M367 863.5h0m20.5-17h0m2-1.5h0m2.5-2.5h0"/>
<path stroke="#73ff83" d="M393.5 844.5h0m1.5-1.5h0m59-46.5h0"/>
<path stroke="#0000d1" d="M359 853.5h0m61 35.5h0"/>
<path stroke="#0074ff" d="M415 881h0m112.5-104h0"/>
<path stroke="#00a0ff" d="M418 875.5h0m16.5-14h0"/>
<path stroke="#0060ff" d="M389 835.5h0m.5 .5h0"/>
<path stroke="#00b4ff" d="M400.5 831h0m18 43h0"/>
<path stroke="#97ff60" d="M448.5 837h0"/>
<path stroke="#63ff94" d="M443 803.5h0m4 38h0"/>
<path stroke="#83ff73" d="M457 830h0m32.5-59.5h0"/>
<path stroke="#dbff1c" d="M384 894h0m110-113h0"/>
<path stroke="#00e0fb" d="M488 763h0m31.5 13.5h0"/>
<path stroke="#73ff83" d="M436 810h0m53-41h0"/>
<path stroke="#50ffa7" d="M427.5 815.5h0m22-17.5h0m47.5-36.5h0"/>
<path stroke="#97ff60" d="M460.5 826h0m55.5-61h0"/>
<path stroke="#00f" d="M454.5 776h0"/>
<path stroke="#0060ff" d="M431 801.5h0m31-25.5h0"/>
<path stroke="#9f0000" d="M361 899h0"/>
<path stroke="#0048ff" d="M378 845h0"/>
<path stroke="#40ffb7" d="M365 867h0"/>
<path stroke="#00b" d="M414 897.5h0"/>
<path stroke="#1cffdb" d="M438.5 852.5h0"/>
<path stroke="#0cf4eb" d="M448 844.5h0m67-64h0"/>
<path stroke="#08f" d="M449.5 849h0m2.5-1.5h0m10-69h0"/>
<path stroke="#63ff94" d="M442.5 804h0m28.5-22.5h0"/>
<path stroke="#a7ff50" d="M442 809h0m11.5-9h0"/>
<path stroke="#ff6400" d="M356.5 911h0m85.5-90h0"/>
<path stroke="#0000a4" d="M379.5 831h0"/>
<path stroke="#ffdb00" d="M405.5 841.5h0"/>
<path stroke="#30ffc7" d="M421 868.5h0"/>
<path stroke="#1cffdb" d="M415 874h0m48-90h0"/>
<path stroke="#40ffb7" d="M425.5 862.5h0m44-81.5h0"/>
<path stroke="#0074ff" d="M473.5 769h0m2.5-2h0"/>
<path stroke="#97ff60" d="M407 876h0m61.5-89h0"/>
<path stroke="#00b4ff" d="M417.5 817.5h0"/>
<path stroke="#30ffc7" d="M419 869.5h0m3.5-51.5h0"/>
<path stroke="#63ff94" d="M417.5 868.5h0m16.5-15.5h0"/>
<path stroke="#40ffb7" d="M416.5 824h0m5 42h0"/>
<path stroke="#00e0fb" d="M369 860h0"/>
<path stroke="#0048ff" d="M408.5 890h0"/>
<path stroke="#00c8ff" d="M509 789h0"/>
<path stroke="#63ff94" d="M379.5 855.5h0m118.5-64.5h0"/>
<path stroke="#83ff73" d="M512.5 771.5h0"/>
<path stroke="#caff2c" d="M433 849h0m68-76.5h0"/>
<path stroke="#73ff83" d="M370 864.5h0m68.5-16h0"/>
<path stroke="#97ff60" d="M374.5 861.5h0m2.5-2h0m31 15h0"/>
<path stroke="#ffb200" d="M372.5 868.5h0m81-45.5h0"/>
<path stroke="#ff9f00" d="M371 871h0m79-58.5h0"/>
<path stroke="#50ffa7" d="M434 810h0"/>
<path stroke="#ffc800" d="M411.5 837h0"/>
<path stroke="#0008ff" d="M471.5 763h0"/>
<path stroke="#a7ff50" d="M461.5 792.5h0"/>
<path stroke="#b7ff40" d="M465.5 792h0m7-6h0"/>
<path stroke="#0cf4eb" d="M416.5 821h0"/>
<path stroke="#ffc800" d="M421.5 829h0m49-33.5h0"/>
<path stroke="#feed00" d="M389.5 852.5h0m87.5-64h0"/>
<path stroke="#dbff1c" d="M413 832.5h0m80-56h0"/>
<path stroke="#63ff94" d="M384.5 851h0m18-14h0m6.5-6h0"/>
<path stroke="#caff2c" d="M366.5 870.5h0m128.5-98h0"/>
<path stroke="#00e0fb" d="M401 888h0"/>
<path stroke="#b7ff40" d="M390.5 889h0m109-121h0"/>
<path stroke="#ebff0c" d="M383.5 893h0m108.5-111h0"/>
<path stroke="#0060ff" d="M517 787.5h0"/>
<path stroke="#00c8ff" d="M523 774h0"/>
<path stroke="#a7ff50" d="M475.5 783.5h0m37.5-16.5h0"/>
<path stroke="#73ff83" d="M396 886.5h0m120.5-118.5h0"/>
<path stroke="#ffdb00" d="M479.5 791h0m2.5 2.5h0"/>
<path stroke="#83ff73" d="M417.5 866h0"/>
<path stroke="#ffb200" d="M420.5 856.5h0m46-50.5h0"/>
<path stroke="#caff2c" d="M425 857h0m73.5-87h0"/>
<path stroke="#b7ff40" d="M379.5 899h0m90.5-85h0"/>
<path stroke="#a7ff50" d="M373.5 905.5h0m130-127.5h0"/>
<path stroke="#1cffdb" d="M462.5 830.5h0"/>
<path stroke="#ff2900" d="M411 847.5h0"/>
<path stroke="#ff8d00" d="M425.5 829h0"/>
<path stroke="#b7ff40" d="M400 842.5h0m25-20.5h0"/>
<path stroke="#ff3b00" d="M423.5 837.5h0m6.5-4h0"/>
<path stroke="#dbff1c" d="M438.5 842.5h0m57-66.5h0"/>
<path stroke="#ff5200" d="M438.5 829h0m.5-3h0"/>
<path stroke="#ff6400" d="M433 825.5h0m5 6.5h0"/>
<path stroke="#9f0000" d="M378 882.5h0"/>
<path stroke="#f70" d="M366 878h0m15 13.5h0m65.5-74.5h0"/>
<path stroke="#00b4ff" d="M465.5 778.5h0"/>
<path stroke="#97ff60" d="M517.5 764h0"/>
<path stroke="#73ff83" d="M468 820h0m51-53.5h0"/>
<path stroke="#40ffb7" d="M414.5 872.5h0"/>
<path stroke="#ffc800" d="M402 874h0m49.5-65h0"/>
<path stroke="#83ff73" d="M399.5 882.5h0m28.5-65h0"/>
<path stroke="#ebff0c" d="M388.5 889h0m45-71h0"/>
<path stroke="#50ffa7" d="M425 817.5h0m1.5 43.5h0"/>
<path stroke="#ff3b00" d="M415.5 855.5h0m13-19.5h0"/>
<path stroke="#b7ff40" d="M415 866h0m86.5-88h0"/>
<path stroke="#ffdb00" d="M476 800h0"/>
<path stroke="#a7ff50" d="M382 898h0m94-89h0"/>
<path stroke="#dbff1c" d="M470.5 811h0m16-17h0"/>
<path stroke="#0048ff" d="M466 837.5h0"/>
<path stroke="#00c8ff" d="M412.5 879.5h0m47-43.5h0"/>
<path stroke="#0cf4eb" d="M405 831.5h0"/>
<path stroke="#d10000" d="M380 872h0"/>
<path stroke="#f70" d="M452.5 816.5h0"/>
<path stroke="#e80000" d="M413 851h0"/>
<path stroke="#83ff73" d="M427.5 858h0"/>
<path stroke="#feed00" d="M463.5 798.5h0"/>
<path stroke="#00b4ff" d="M383 907.5h0"/>
<path stroke="#97ff60" d="M488.5 798.5h0"/>
<path stroke="#40ffb7" d="M404 834.5h0"/>
<path stroke="#ffb200" d="M380.5 861.5h0"/>
<path stroke="#ff9f00" d="M371 871.5h0"/>
<path stroke="#ff8d00" d="M454 811.5h0"/>
<path stroke="#dbff1c" d="M459.5 822h0m.5-24.5h0"/>
<path stroke="#ffc800" d="M470.5 796.5h0m3.5-2h0"/>
<path stroke="#ebff0c" d="M427.5 852.5h0m50.5-66.5h0"/>
<path stroke="#ff2900" d="M417 842.5h0"/>
<path stroke="#ff1600" d="M411 857.5h0m6-12h0"/>
<path stroke="#0cf4eb" d="M489.5 804.5h0"/>
<path stroke="#ff6400" d="M371 873.5h0"/>
<path stroke="#ffdb00" d="M459 819.5h0"/>
<path stroke="#b7ff40" d="M456.5 798.5h0"/>
<path stroke="#ffb200" d="M472.5 798.5h0"/>
<path stroke="#caff2c" d="M480 782.5h0"/>
<path stroke="#ff2900" d="M421.5 846.5h0"/>
<path stroke="#ff5200" d="M410 862h0"/>
<path stroke="#9f0000" d="M371 883h0"/>
<path stroke="#a7ff50" d="M457.5 796h0"/>
<path stroke="#63ff94" d="M445.5 802.5h0"/>
<path stroke="#ebff0c" d="M491 782.5h0"/>
<path stroke="#ff8d00" d="M432 843.5h0"/>
<path stroke="#b00" d="M398 862h0"/>
<path stroke="#ffdb00" d="M358.5 881h0"/>
<path stroke="#ff1600" d="M383 885h0"/>
<path stroke="#890000" d="M370 888h0m15.5-14h0"/>
<path stroke="#ff9f00" d="M462 807h0"/>
<path stroke="#caff2c" d="M493.5 774h0"/>
<path stroke="#ebff0c" d="M459.5 799.5h0m26-17h0"/>
<path stroke="#ff5200" d="M436 832.5h0"/>
<path stroke="#f70" d="M406 867h0"/>
<path stroke="#63ff94" d="M360.5 872.5h0"/>
<path stroke="#ff8d00" d="M356.5 885h0"/>
<path stroke="#ff2900" d="M383.5 885.5h0"/>
<path stroke="#b00" d="M390 866.5h0"/>
<path stroke="#ff1600" d="M368.5 897h0"/>
<path stroke="#9f0000" d="M370.5 890.5h0m19.5-23h0"/>
<path stroke="#b00" d="M363 888h0m3 8.5h0"/>
<path stroke="#feed00" d="M456.5 803h0"/>
<path stroke="#ff9f00" d="M447 827h0"/>
<path stroke="#e80000" d="M407 855h0"/>
<path stroke="#ff8d00" d="M397.5 850h0m10.5 15.5h0m36.5-37h0"/>
<path stroke="#caff2c" d="M401 842h0m47.5-7h0"/>
<path stroke="#d10000" d="M375.5 876h0"/>
<path stroke="#f70" d="M395.5 877.5h0"/>
<path stroke="#890000" d="M359 900.5h0"/>
<path stroke="#9f0000" d="M366.5 894.5h0m24-21.5h0"/>
<path stroke="#ffdb00" d="M461 800.5h0"/>
<path stroke="#ffc800" d="M456 820h0"/>
<path stroke="#ff1600" d="M416 851.5h0"/>
<path stroke="#ff3b00" d="M405.5 864.5h0m12.5-24.5h0"/>
<path stroke="#ff9f00" d="M439.5 836h0"/>
<path stroke="#ff6400" d="M377.5 868h0"/>
<path stroke="#b00" d="M357 904.5h0"/>
<path stroke="#97ff60" d="M468 817.5h0"/>
<path stroke="#f70" d="M421.5 852.5h0"/>
<path stroke="#ff1600" d="M415.5 849h0m2.5-2h0"/>
<path stroke="#dbff1c" d="M447 835h0"/>
<path stroke="#890000" d="M359 899.5h0"/>
<path stroke="#ff2900" d="M356.5 889h0m47-37h0"/>
<path stroke="#e80000" d="M395.5 859.5h0m12-7h0"/>
<path stroke="#b7ff40" d="M364 912h0"/>
<path stroke="#ff9f00" d="M463 808h0"/>
<path stroke="#0cf4eb" d="M431.5 860h0"/>
<path stroke="#ff5200" d="M421 850h0"/>
<path stroke="#ff2900" d="M419.5 847.5h0m4-5h0"/>
<path stroke="#50ffa7" d="M445 843.5h0"/>
<path stroke="#9f0000" d="M393.5 868.5h0"/>
<path stroke="#ff5200" d="M388.5 859h0"/>
<path stroke="#f70" d="M401.5 871h0"/>
<path stroke="#ff2900" d="M390.5 878h0"/>
<path stroke="#ff5200" d="M408 863h0"/>
<path stroke="#ff8d00" d="M389 884h0"/>
<path stroke="#b00" d="M387 878.5h0"/>
<path stroke="#ff6400" d="M387 885h0"/>
</g>
<g clip-path="url(#t8)">
<path stroke="#d3d3d3" stroke-width="7" d="M416 758h0m13-11.5h0m7.5 11h0m.5-13.5h0m1.5 7h0m3.5-2.5h0m0 7h0m1.5-2.5h0m2 3.5h0m1 0h0m.5-2h0m1 4.5h0m5-1.5h0m.5-11h0m1 10h0m.5-3.5h0m3.5-17h0m1-2h0m2-4.5h0m0 14h0m1-3.5h0m2-11h0m0 11.5h0m1 8h0m.5-34h0m1 35.5h0m.5 3h0m1-14h0m1 .5h0m.5 5.5h0m1.5 8h0m1.5-5h0m1-4h0m7.5-32.5h0m1 24.5h0m2-14.5h0m1 2.5h0m1 4h0m6.5-12h0m.5-24.5h0m1.5 15.5h0m1-26h0m1.5 33.5h0m1.5-8h0m.5 11.5h0m3.5-33h0m1.5 22h0m1-14h0m2.5 13h0m0 5.5h0m3-28h0m1-19h0m2.5 29h0m1-35.5h0m.5 47h0m0 4h0m3-14.5h0m0 4.5h0m3 6.5h0m.5-18.5h0m1 7.5h0m1.5-11h0m1 26.5h0m2-37h0m0 33h0m.5-2.5h0m0 4h0m2.5-8h0m.5 7h0m0 .5h0m1 2h0m2-1h0m1-.5h0m1-10.5h0"/>
<path stroke="#000089" d="M460 747.5h0m4-12.5h0m12 5h0m12-23.5h0m15.5-27h0m11-4h0"/>
<path stroke="#0000ed" d="M469.5 758.5h0m2.5-1.5h0m3.5-3h0"/>
<path stroke="#0000d1" d="M490.5 738h0m18-11h0"/>
<path stroke="#00b" d="M524.5 713h0"/>
<path stroke="#0000a4" d="M522 701h0m6-4.5h0"/>
<path stroke="#00f" d="M474.5 758.5h0"/>
<path stroke="#0008ff" d="M513.5 726.5h0"/>
<path stroke="#0000d1" d="M502.5 731.5h0m27-19h0"/>
<path stroke="#00b" d="M491.5 734h0m21.5-15.5h0"/>
<path stroke="#000089" d="M479 736.5h0m11.5-12h0m39.5-38.5h0"/>
<path stroke="#0000ed" d="M475 755.5h0m20-16.5h0"/>
<path stroke="#0000a4" d="M503.5 719h0m28.5-25h0"/>
<path stroke="#0048ff" d="M536.5 714.5h0"/>
<path stroke="#0000d1" d="M523.5 716h0"/>
<path stroke="#0008ff" d="M514.5 726.5h0"/>
<path stroke="#0020ff" d="M488.5 749.5h0"/>
<path stroke="#000089" d="M529 688h0"/>
<path stroke="#0060ff" d="M527.5 722.5h0"/>
<path stroke="#0000a4" d="M508 715.5h0"/>
<path stroke="#00b" d="M480.5 744h0m40-30.5h0"/>
<path stroke="#0000d1" d="M480 749h0m5.5-7.5h0"/>
<path stroke="#0034ff" d="M481 757h0m17-13h0"/>
<path stroke="#0048ff" d="M512.5 732h0"/>
<path stroke="#0074ff" d="M532.5 722h0"/>
<path stroke="#0000a4" d="M521 701.5h0"/>
<path stroke="#00c8ff" d="M506.5 747.5h0"/>
<path stroke="#00a0ff" d="M488.5 759h0"/>
<path stroke="#0008ff" d="M484 751.5h0m1 0h0"/>
<path stroke="#0060ff" d="M517 731.5h0"/>
<path stroke="#0074ff" d="M515.5 734h0m11.5-9h0"/>
<path stroke="#0cf4eb" d="M505 751h0"/>
<path stroke="#0008ff" d="M507 732h0"/>
<path stroke="#00a0ff" d="M516.5 736h0m1.5 .5h0"/>
<path stroke="#00b4ff" d="M531 727.5h0"/>
<path stroke="#1cffdb" d="M503 754.5h0m33-22.5h0"/>
<path stroke="#0048ff" d="M508.5 737h0m24-19.5h0"/>
<path stroke="#00f" d="M505.5 732.5h0m14-10h0"/>
<path stroke="#0000a4" d="M496.5 727h0m22.5-16h0"/>
<path stroke="#40ffb7" d="M536.5 735.5h0"/>
<path stroke="#63ff94" d="M506 758h0"/>
<path stroke="#0034ff" d="M506.5 737h0"/>
<path stroke="#0048ff" d="M522 726.5h0"/>
<path stroke="#50ffa7" d="M535.5 739h0"/>
<path stroke="#97ff60" d="M515 756.5h0"/>
<path stroke="#0008ff" d="M500 738.5h0"/>
<path stroke="#08f" d="M523.5 729.5h0"/>
<path stroke="#63ff94" d="M535 741.5h0"/>
<path stroke="#73ff83" d="M531 748.5h0m.5 1.5h0m1-3h0"/>
<path stroke="#40ffb7" d="M505.5 754.5h0"/>
<path stroke="#00b4ff" d="M529.5 728h0"/>
<path stroke="#30ffc7" d="M533.5 757.5h0"/>
<path stroke="#00c8ff" d="M495 756h0"/>
<path stroke="#50ffa7" d="M530.5 740h0"/>
<path stroke="#73ff83" d="M530 747.5h0"/>
<path stroke="#63ff94" d="M530.5 742h0"/>
<path stroke="#00e0fb" d="M519 739.5h0m6.5-5h0"/>
<path stroke="#83ff73" d="M523.5 757h0"/>
<path stroke="#00c8ff" d="M526.5 732.5h0"/>
<path stroke="#73ff83" d="M528.5 754h0"/>
<path stroke="#63ff94" d="M514.5 752.5h0"/>
<path stroke="#30ffc7" d="M508.5 751.5h0"/>
<path stroke="#97ff60" d="M522.5 753.5h0"/>
<path stroke="#00a0ff" d="M496 753h0"/>
<path stroke="#1cffdb" d="M510 749h0"/>
<path stroke="#97ff60" d="M518.5 754h0m0 1.5h0"/>
<path stroke="#00e0fb" d="M492.5 759h0"/>
<path stroke="#08f" d="M509 742h0"/>
<path stroke="#83ff73" d="M524.5 751h0"/>
<path stroke="#00c8ff" d="M512 743.5h0"/>
<path stroke="#1cffdb" d="M534 758.5h0"/>
<path stroke="#08f" d="M512.5 738.5h0"/>
<path stroke="#63ff94" d="M523.5 746h0"/>
<path stroke="#73ff83" d="M530 745.5h0"/>
<path stroke="#50ffa7" d="M523 745.5h0"/>
</g>
<g clip-path="url(#t13)">
<path stroke="#d3d3d3" stroke-width="7" d="M542 799h0m1 7.5h0m1-10.5h0m0 13.5h0m3-6.5h0m7.5-23h0m.5 27.5h0m1-13h0m3.5 10.5h0m4.5-10.5h0m2 3h0m0 1h0m1.5-9h0m1.5-16h0m2 4h0m1 6h0m0 4h0m1.5-17h0m1.5 6.5h0m6.5 1h0m0 11h0m2-15h0m.5-1h0m4-10.5h0m0 29.5h0m.5-2.5h0m3 9h0m2.5-10h0m5-14.5h0m3-2.5h0"/>
<path stroke="#0000a4" d="M539.5 791.5h0m19-17.5h0m6.5-3h0m10.5-5h0m3.5 2.5h0m1-4.5h0"/>
<path stroke="#000089" d="M553 815.5h0m.5-28.5h0m9.5-5.5h0m72.5 1.5h0"/>
<path stroke="#0034ff" d="M541.5 769h0"/>
<path stroke="#00b" d="M562.5 762h0"/>
<path stroke="#0000a4" d="M570 763.5h0m5 1.5h0"/>
<path stroke="#0000d1" d="M542 779h0"/>
<path stroke="#0000ed" d="M552 766h0"/>
<path stroke="#00b" d="M551 777.5h0m6.5-11.5h0"/>
<path stroke="#0000a4" d="M543 788h0m18-12h0"/>
<path stroke="#0000ed" d="M552 765.5h0"/>
<path stroke="#00b" d="M545 782.5h0"/>
<path stroke="#00f" d="M549.5 767h0"/>
<path stroke="#0000a4" d="M544.5 789h0"/>
<path stroke="#0020ff" d="M550.5 763h0"/>
<path stroke="#0048ff" d="M538.5 770h0"/>
<path stroke="#0034ff" d="M551 760.5h0"/>
<path stroke="#0000d1" d="M539.5 781h0"/>
<path stroke="#0074ff" d="M544 762h0"/>
<path stroke="#0060ff" d="M538.5 768.5h0m5-3.5h0"/>
<path stroke="#0074ff" d="M540 765h0"/>
<path stroke="#00a0ff" d="M538 763.5h0"/>
<path stroke="#0020ff" d="M537 776.5h0"/>
<path stroke="#0008ff" d="M548 767.5h0"/>
<path stroke="#00b" d="M538.5 784.5h0"/>
</g>
<g clip-path="url(#t14)">
<path stroke="#d3d3d3" stroke-width="7" d="M539 655h0m2 7h0m4-9.5h0m1.5 16h0m2.5-18h0m1.5 6h0m2.5-.5h0m.5 17h0m.5-12h0m0 12.5h0m1-48.5h0m0 28.5h0m2 15h0m2-15h0m2 7.5h0m1 8.5h0m1.5-42h0m1.5-9.5h0m0 12h0m.5 5.5h0m3 21.5h0m1 4.5h0m.5 98h0m.5-105.5h0m0 5.5h0m.5-1.5h0m2-13h0m0 2h0m3 110h0m1.5-2h0m5-118h0m.5 119.5h0m1-127.5h0m.5-2h0m1.5 115h0m1-112h0m0 2.5h0m0 115h0m.5-109h0m0 13.5h0m0 101h0m1-10h0m1 1.5h0m.5-115.5h0m1 8.5h0m.5 1h0m0 117.5h0m.5-115h0m1 105.5h0m0 10.5h0m2-124h0m0 112.5h0m.5 5.5h0m1-131.5h0m1 17h0m0 5.5h0m1 115.5h0m.5-20.5h0m2.5 10h0m1-115h0m1 3.5h0m.5 123.5h0m2.5-129.5h0m1-15.5h0m0 .5h0m1.5-2h0m2.5 145h0m1.5-1h0m.5-7.5h0m2.5-17h0m2-111.5h0m1 110h0m2-105h0m2-5.5h0m.5 10h0m1.5 99h0m.5-1.5h0m.5-103h0m1.5-13.5h0m0 17h0m1 80.5h0m.5-88.5h0m1.5 134h0m2-19.5h0m.5-21.5h0m5 13.5h0m0 29h0m4.5-48h0m1 25h0m1.5-124h0m1 95.5h0m2.5-3.5h0m7.5 17h0m2.5-3h0m5.5-11.5h0m1.5-9.5h0m3.5-10h0m1 3.5h0m.5 19.5h0m10.5-21.5h0m5.5-22h0m0 26.5h0m2-14h0m4-20.5h0m2.5-9.5h0m3 4h0m1.5-5.5h0m.5 55.5h0m2.5-55h0m.5-5h0m3.5 53h0m1-38h0m2 11.5h0m1 7.5h0m.5-6h0m.5-10.5h0m3-17h0m.5-6h0m1.5 17h0"/>
<path stroke="#000089" d="M540 678h0m30.5-28h0m17 107h0m4.5-131h0m13 111h0m.5 11h0m1.5-125.5h0m3 11.5h0m2.5 109h0m9.5-8h0m17.5-16h0m8.5-6.5h0m1.5 1.5h0m3-15h0m0 43.5h0m1.5-36h0m19.5-13.5h0m8-29h0m3.5 22h0m5.5-7.5h0m.5-27.5h0m13.5 10.5h0m0 8.5h0m3-21h0m4.5 56h0m0 36.5h0"/>
<path stroke="#0000a4" d="M544 682h0m51-38h0m6 84.5h0m21-14h0m15-11h0m11-7h0m13.5-14.5h0m6-6.5h0"/>
<path stroke="#00b" d="M581 658h0m23.5-11.5h0m6-6h0m1 73h0m12.5-5.5h0m7.5-79.5h0m17 59.5h0m.5-78h0m24 49h0m41.5-37.5h0"/>
<path stroke="#0000d1" d="M542 699h0m28 55h0m59-119h0m26.5-26h0m11 50h0m29-23.5h0m3.5-2h0"/>
<path stroke="#0000a4" d="M597.5 648h0m11 72.5h0m.5-82h0m11.5 78h0m1 .5h0m69-70.5h0m17-8.5h0m6-9h0"/>
<path stroke="#00f" d="M572.5 679.5h0m22 45h0m12-71h0m22.5 39.5h0m15.5-68h0m8.5 44h0"/>
<path stroke="#00b" d="M543 692.5h0m19.5-16.5h0m53-37.5h0m6-4h0m7 71h0m8-82.5h0m1-1.5h0m21.5 52h0m22-21.5h0"/>
<path stroke="#0000ed" d="M538.5 706.5h0m1-2h0m43.5 32.5h0m29-28.5h0m11-8h0m5-3h0"/>
<path stroke="#000089" d="M585 644.5h0m39.5 77h0m14.5-9h0m23.5-23h0m41.5-41h0"/>
<path stroke="#0000d1" d="M556.5 687h0m23-18h0m64-47h0m17 44.5h0m22-21.5h0"/>
<path stroke="#0000a4" d="M542 686.5h0m6.5-8.5h0m20-13.5h0m67.5 46h0m18.5-22h0m11.5-8h0"/>
<path stroke="#00b" d="M558 674.5h0m8-6h0m.5-1.5h0m8-1h0m13-7h0m39 46h0m17-14.5h0m8.5-12h0m36.5-34h0m1 0h0"/>
<path stroke="#0060ff" d="M554 754h0m52.5-53h0m10-44.5h0m7-4.5h0"/>
<path stroke="#0034ff" d="M583 729h0m23-22h0m95.5-98.5h0"/>
<path stroke="#0020ff" d="M575 680h0m111-49.5h0m1-1h0m17-17h0m5.5-6.5h0"/>
<path stroke="#0000ed" d="M566.5 754h0m81.5-77.5h0m19-19.5h0m30-26h0m17.5-19h0m2-4.5h0"/>
<path stroke="#0008ff" d="M539.5 709h0m52.5 15.5h0m5-4.5h0m72.5-111h0"/>
<path stroke="#0048ff" d="M573.5 685.5h0m11.5 41.5h0m65.5-93.5h0m25.5-10.5h0"/>
<path stroke="#00f" d="M578 741h0m10-74.5h0m34 32.5h0m76-75h0"/>
<path stroke="#0000a4" d="M582 747.5h0m12.5-13h0m9-4h0m69.5-63h0m35-33.5h0"/>
<path stroke="#0020ff" d="M580 677h0m69.5-52h0m17 25h0m8.5-40.5h0m25.5 6h0"/>
<path stroke="#0000d1" d="M548 692.5h0m57 25h0m15.5-12h0m22-16.5h0"/>
<path stroke="#000089" d="M578 653.5h0m31.5 81.5h0m75.5-67.5h0m29-23.5h0"/>
<path stroke="#00b" d="M549.5 684.5h0m4.5-2h0m19.5-15.5h0m3-3h0m78 21h0"/>
<path stroke="#08f" d="M552 752.5h0m69.5-93.5h0m15.5-.5h0"/>
<path stroke="#0008ff" d="M559.5 757.5h0m41-41h0m32-29h0m58.5-60h0"/>
<path stroke="#0048ff" d="M560.5 753h0m39.5-43.5h0m24.5-20h0m39.5-42.5h0"/>
<path stroke="#00a0ff" d="M545.5 756.5h0m52.5-76.5h0m9.5 9h0"/>
<path stroke="#0074ff" d="M545 711h0m9 41h0m22.5-64.5h0m1.5 40.5h0"/>
<path stroke="#0034ff" d="M582 677.5h0m68-13.5h0m19-49h0m12.5 16h0"/>
<path stroke="#0000ed" d="M545.5 700h0m98-77.5h0m15 42h0m52-46h0"/>
<path stroke="#0000d1" d="M589 660h0m104-22.5h0m14.5-11.5h0"/>
<path stroke="#0020ff" d="M606 708.5h0m3-2.5h0m78-77.5h0m9.5-9.5h0"/>
<path stroke="#0048ff" d="M572.5 686.5h0m11.5 40h0m35-33h0m56.5-65.5h0m10.5-5h0m3-7h0m2-3h0m3.5-3.5h0"/>
<path stroke="#00b4ff" d="M570.5 730h0m5.5-5.5h0m2.5-5h0m0 1h0m12-12.5h0"/>
<path stroke="#00b" d="M590.5 657h0m49.5 39.5h0m.5-3.5h0"/>
<path stroke="#00f" d="M638 683.5h0m39-38h0m5-5h0"/>
<path stroke="#00c8ff" d="M599.5 686.5h0m1 5h0m.5-2h0"/>
<path stroke="#0060ff" d="M611.5 661h0m36-24.5h0"/>
<path stroke="#0034ff" d="M592 722.5h0m17.5-65h0m26.5 22h0"/>
<path stroke="#0000a4" d="M634.5 617.5h0m38.5 53.5h0"/>
<path stroke="#08f" d="M564 742h0m19.5-57h0"/>
<path stroke="#0008ff" d="M649.5 623.5h0m27.5-17h0"/>
<path stroke="#0000d1" d="M588 735.5h0m61.5-121.5h0m52.5 16.5h0"/>
<path stroke="#0048ff" d="M667 639.5h0m12-9h0"/>
<path stroke="#0060ff" d="M558.5 752h0m69-73.5h0"/>
<path stroke="#0034ff" d="M628.5 685.5h0m23.5-58h0m24-12.5h0"/>
<path stroke="#0048ff" d="M559.5 752.5h0m66.5-66h0m54-69.5h0"/>
<path stroke="#0020ff" d="M592 666h0m65-45.5h0"/>
<path stroke="#00f" d="M592 663.5h0m44-30h0"/>
<path stroke="#08f" d="M560.5 745h0m70.5-73.5h0"/>
<path stroke="#0034ff" d="M571.5 742h0m112-133.5h0m0 18.5h0"/>
<path stroke="#00a0ff" d="M558.5 744.5h0m46-68h0"/>
<path stroke="#0060ff" d="M649.5 637.5h0m1-1.5h0"/>
<path stroke="#0048ff" d="M653.5 633h0m10-6.5h0m3.5-2h0"/>
<path stroke="#0074ff" d="M601.5 670h0m22 10.5h0m26-33h0"/>
<path stroke="#0020ff" d="M595.5 663.5h0m37-23h0m3-2.5h0"/>
<path stroke="#0060ff" d="M648.5 659.5h0m4.5-22.5h0m1 18h0"/>
<path stroke="#0000ed" d="M608 713h0m17.5-71.5h0m38 16.5h0"/>
<path stroke="#0000d1" d="M569.5 753.5h0m69.5-131.5h0m35 29.5h0"/>
<path stroke="#00b" d="M591 653h0m51 38h0"/>
<path stroke="#00a0ff" d="M610.5 671h0m3.5 10.5h0"/>
<path stroke="#0034ff" d="M607 658.5h0m17.5-10.5h0"/>
<path stroke="#08f" d="M621.5 660.5h0m7 12h0"/>
<path stroke="#0074ff" d="M613 689h0m35.5-33h0"/>
<path stroke="#0048ff" d="M608.5 660h0m51.5-8.5h0m5.5-6h0"/>
<path stroke="#0034ff" d="M645 668h0m5-4.5h0m25-25h0"/>
<path stroke="#00f" d="M651.5 620h0m8 41.5h0"/>
<path stroke="#0000a4" d="M634.5 615.5h0m30.5 56h0"/>
<path stroke="#0000ed" d="M643 681h0m16.5-70.5h0"/>
<path stroke="#1cffdb" d="M555.5 718h0"/>
<path stroke="#40ffb7" d="M549 726.5h0m3 3.5h0"/>
<path stroke="#00b4ff" d="M545.5 716h0m37-25h0"/>
<path stroke="#00a0ff" d="M540.5 717.5h0m34-25.5h0m44.5-16h0"/>
<path stroke="#0074ff" d="M583.5 681.5h0m69-34.5h0"/>
<path stroke="#0060ff" d="M623 687h0m43-53.5h0"/>
<path stroke="#0034ff" d="M585 673.5h0m78.5-53h0"/>
<path stroke="#0048ff" d="M564 692.5h0m60.5-4h0"/>
<path stroke="#00c8ff" d="M549.5 750h0"/>
<path stroke="#0000d1" d="M616 644h0"/>
<path stroke="#08f" d="M614.5 663.5h0"/>
<path stroke="#00b4ff" d="M588 688h0m25-14.5h0"/>
<path stroke="#00f" d="M564.5 684h0m46.5-32h0"/>
<path stroke="#00b" d="M638.5 621h0"/>
<path stroke="#30ffc7" d="M565 718.5h0"/>
<path stroke="#00e0fb" d="M539 726.5h0"/>
<path stroke="#50ffa7" d="M537 737.5h0m8.5-1h0m.5 3.5h0"/>
<path stroke="#40ffb7" d="M553 729.5h0m4-4h0"/>
<path stroke="#08f" d="M592.5 678.5h0"/>
<path stroke="#00c8ff" d="M595.5 689.5h0m4.5 1h0"/>
<path stroke="#00b4ff" d="M596.5 699.5h0m9-19.5h0"/>
<path stroke="#0074ff" d="M571.5 690.5h0"/>
<path stroke="#08f" d="M568 694.5h0m23-15.5h0"/>
<path stroke="#00a0ff" d="M563 701.5h0m37.5-5.5h0"/>
<path stroke="#0020ff" d="M553.5 697.5h0m97-72.5h0"/>
<path stroke="#0060ff" d="M555 702.5h0m39-30h0"/>
<path stroke="#00e0fb" d="M554.5 715h0m11 13.5h0"/>
<path stroke="#00c8ff" d="M544.5 719.5h0m19 14.5h0m18.5-42h0"/>
<path stroke="#0048ff" d="M597.5 666h0m14.5 31.5h0"/>
<path stroke="#0074ff" d="M571.5 737h0m13-55.5h0"/>
<path stroke="#0034ff" d="M576 738h0m79.5-112h0"/>
<path stroke="#0008ff" d="M639 633h0"/>
<path stroke="#0cf4eb" d="M545.5 750h0"/>
<path stroke="#50ffa7" d="M547 734h0"/>
<path stroke="#40ffb7" d="M550 734h0m5-2h0"/>
<path stroke="#00e0fb" d="M580 698h0"/>
<path stroke="#00a0ff" d="M568.5 698h0m37-22.5h0"/>
<path stroke="#00c8ff" d="M544.5 754h0m40.5-62.5h0"/>
<path stroke="#00e0fb" d="M585.5 693.5h0m6 .5h0m2.5-2.5h0"/>
<path stroke="#0000ed" d="M600 655h0"/>
<path stroke="#0000d1" d="M574.5 674h0"/>
<path stroke="#00b" d="M573.5 667.5h0m4 82h0"/>
<path stroke="#0060ff" d="M588 678h0"/>
<path stroke="#0048ff" d="M638 640.5h0"/>
<path stroke="#08f" d="M557 749h0"/>
<path stroke="#0cf4eb" d="M582 706h0"/>
<path stroke="#00b4ff" d="M590.5 707h0m16.5-31.5h0"/>
<path stroke="#0074ff" d="M591 676h0m8 29h0"/>
<path stroke="#50ffa7" d="M538 749h0"/>
<path stroke="#0060ff" d="M639 642.5h0"/>
<path stroke="#1cffdb" d="M572 713h0"/>
<path stroke="#00b4ff" d="M542 758.5h0m23.5-56h0"/>
<path stroke="#0074ff" d="M553 705h0m16-13h0"/>
<path stroke="#0020ff" d="M640.5 634.5h0"/>
<path stroke="#0048ff" d="M633 643.5h0m7.5-3.5h0"/>
<path stroke="#00c8ff" d="M580 715h0"/>
<path stroke="#0cf4eb" d="M560 713.5h0m15-9.5h0"/>
<path stroke="#00e0fb" d="M573.5 719.5h0m7.5-24.5h0"/>
<path stroke="#08f" d="M629 655h0"/>
<path stroke="#0074ff" d="M651.5 644.5h0"/>
<path stroke="#0060ff" d="M633 646h0m27-.5h0"/>
<path stroke="#0048ff" d="M586 724.5h0"/>
<path stroke="#00c8ff" d="M561 708.5h0"/>
<path stroke="#0074ff" d="M559 701.5h0m31 15h0"/>
<path stroke="#0cf4eb" d="M574.5 716h0"/>
<path stroke="#1cffdb" d="M567.5 715h0m0 6h0"/>
<path stroke="#30ffc7" d="M560.5 726.5h0m5.5-9.5h0"/>
<path stroke="#00a0ff" d="M631 664.5h0"/>
<path stroke="#08f" d="M631 668h0m5.5-11.5h0m9.5-3.5h0"/>
<path stroke="#0048ff" d="M648 663h0m1.5-1h0"/>
<path stroke="#0020ff" d="M644.5 673.5h0m26.5-28h0"/>
<path stroke="#0060ff" d="M640.5 668h0m11-26.5h0"/>
<path stroke="#00b4ff" d="M551.5 712.5h0"/>
<path stroke="#00e0fb" d="M588 704.5h0"/>
<path stroke="#40ffb7" d="M555.5 727h0"/>
<path stroke="#1cffdb" d="M567.5 718h0"/>
<path stroke="#00a0ff" d="M619.5 667h0"/>
<path stroke="#0074ff" d="M637 649.5h0"/>
<path stroke="#08f" d="M633.5 653.5h0m7.5-2h0"/>
<path stroke="#0cf4eb" d="M555.5 739h0"/>
<path stroke="#0074ff" d="M562.5 746.5h0m88.5-103h0"/>
<path stroke="#0060ff" d="M632.5 646h0m24-9.5h0"/>
<path stroke="#00b4ff" d="M619.5 671h0"/>
<path stroke="#08f" d="M636 657.5h0"/>
</g>
<g clip-path="url(#t15)">
<path stroke="#d3d3d3" stroke-width="7" d="M595 593.5h0m23.5 10.5h0m1-26.5h0m3 4h0m.5 20h0m1.5-1h0m5.5-9.5h0m5-2.5h0m1-1h0m2-9h0m.5 12.5h0m3 2h0m9 0h0m1.5 3h0m1-35.5h0m3 16h0m.5-42.5h0m1 30h0m.5 16.5h0m1.5 9.5h0m4-29h0m3-13.5h0m5.5 35.5h0m2 6h0m1-20h0m0 2.5h0m1.5-16.5h0m5-28.5h0m0 32h0m.5-28h0m0 19.5h0m1-3h0m1 21.5h0m2-5h0m3.5 7h0m2 5.5h0m3.5-10h0m.5 9h0m1-73h0m.5 70.5h0m0 3.5h0m1-15.5h0m.5-21.5h0m1-26.5h0m.5 53h0m0 8h0m3.5-29h0m2 2h0m.5-37.5h0m1.5-6h0m0 46h0m.5-28h0m.5 25h0m1.5-2h0m2-43h0m1 24h0m2 11h0"/>
<path stroke="#000089" d="M626 570h0m4 28h0m18.5-16h0m10.5-11h0m11-15h0m15.5 3h0m21.5-31h0m4.5 1.5h0"/>
<path stroke="#0000a4" d="M643 605h0m2.5 1h0m10-10.5h0"/>
<path stroke="#0000d1" d="M699 579.5h0m1.5-1.5h0m11-10h0"/>
<path stroke="#00b" d="M649 604h0m25-11h0"/>
<path stroke="#0000a4" d="M678.5 582h0m25-17.5h0m4.5-8h0"/>
<path stroke="#000089" d="M633.5 601.5h0m32.5-22h0m13.5-4.5h0"/>
<path stroke="#0000ed" d="M697.5 585.5h0m18.5-16.5h0"/>
<path stroke="#0000d1" d="M671.5 599.5h0m31-23h0"/>
<path stroke="#00b" d="M663 593h0m11.5 1h0m14-12h0m25-24h0"/>
<path stroke="#0000a4" d="M663.5 584.5h0m4 5.5h0m47-39.5h0"/>
<path stroke="#0000ed" d="M672 603h0m2 .5h0"/>
<path stroke="#00f" d="M682 598.5h0m0 1h0m35-22.5h0"/>
<path stroke="#0034ff" d="M687 604.5h0m12-6.5h0"/>
<path stroke="#00b" d="M657.5 596.5h0m2.5-.5h0"/>
<path stroke="#0000ed" d="M671.5 604.5h0m34-27h0"/>
<path stroke="#00f" d="M703.5 583h0m2.5 1.5h0m4.5-2h0"/>
<path stroke="#0008ff" d="M712 603.5h0"/>
<path stroke="#0034ff" d="M700 601.5h0m1-2h0"/>
<path stroke="#000089" d="M665.5 579.5h0"/>
<path stroke="#0000d1" d="M688 588h0"/>
<path stroke="#0000ed" d="M687.5 592.5h0m27-20h0"/>
<path stroke="#00b" d="M660.5 602.5h0"/>
<path stroke="#0020ff" d="M706 592.5h0"/>
<path stroke="#00f" d="M684.5 598h0m14.5-10h0m2.5-2.5h0m2-.5h0"/>
<path stroke="#0008ff" d="M691.5 598h0m24.5-7.5h0"/>
<path stroke="#0000a4" d="M681 581h0"/>
<path stroke="#0020ff" d="M690 601.5h0"/>
<path stroke="#00f" d="M713.5 583.5h0"/>
<path stroke="#0034ff" d="M707 596.5h0"/>
<path stroke="#0000d1" d="M684.5 587.5h0"/>
<path stroke="#0000ed" d="M712 572h0"/>
<path stroke="#0008ff" d="M715 597h0"/>
<path stroke="#0000a4" d="M688 579.5h0"/>
<path stroke="#0020ff" d="M710.5 600h0"/>
<path stroke="#00b" d="M681.5 586h0"/>
<path stroke="#0048ff" d="M699.5 605h0"/>
<path stroke="#0034ff" d="M708 602.5h0"/>
<path stroke="#0020ff" d="M710.5 603.5h0"/>
</g>
<g clip-path="url(#t20)">
<path stroke="#d3d3d3" stroke-width="7" d="M719.5 642h0m3.5-9h0m.5-3.5h0m0 39.5h0m6.5-62.5h0m2.5 42h0m0 32h0m1-71h0m5.5 29h0m1-14h0m1-2h0m2-15h0m1.5-.5h0m0 19.5h0m9-14.5h0m1 8.5h0m24 2h0m13-13h0m12 3.5h0"/>
<path stroke="#000089" d="M720 664h0m1-18h0m12.5-11.5h0m0 5.5h0m16.5-18.5h0m1-.5h0m15-10.5h0m0 7.5h0m1-10.5h0m1 .5h0"/>
<path stroke="#0000a4" d="M724 620h0m2 1.5h0"/>
<path stroke="#000089" d="M726.5 632.5h0m3.5-7h0m8.5-7h0"/>
<path stroke="#00b" d="M723 611h0"/>
<path stroke="#000089" d="M730 613.5h0"/>
<path stroke="#0000d1" d="M720.5 609.5h0"/>
<path stroke="#00b" d="M719.5 613h0"/>
</g>
<g clip-path="url(#t21)">
<path stroke="#d3d3d3" stroke-width="7" d="M717.5 520h0m.5-10.5h0m1 30.5h0m.5-7.5h0m2.5-56.5h0m.5 12.5h0m3 38.5h0m.5-9h0m.5 21h0m1 1h0m.5-32.5h0m2.5-4.5h0m.5 0h0m2 13h0m.5-25h0m.5-5h0m0 118.5h0m2.5-92.5h0m1 3h0m7.5 65h0m4-5h0m1-57.5h0m0 81.5h0m.5-96h0m1 88.5h0m.5-126.5h0m0 113.5h0m.5-4h0m1.5-65.5h0m0 79h0m2-104h0m1 112h0m2-126.5h0m2.5 127h0m2-118.5h0m.5 9h0m1-31h0m.5 133.5h0m.5-103h0m1 100h0m1-96h0m.5 87.5h0m1-107h0m1 90.5h0m.5-97.5h0m.5 113.5h0m.5-17h0m1 45.5h0m1.5-101.5h0m0 62.5h0m.5-67.5h0m.5-4.5h0m.5 68.5h0m1 13h0m.5-96h0m.5 8.5h0m2 61h0m1-86.5h0m5 3h0m0 22h0m.5-24h0m.5 101h0m.5 12h0m2-93h0m0 44h0m1.5 66h0m1 .5h0m2.5-97.5h0m.5-1.5h0m.5 65.5h0m.5-32h0m0 38h0m1-97h0m3.5 49h0m1 73.5h0m1-97.5h0m.5 2h0m0 41h0m0 35h0m.5-70.5h0m1 11h0m1.5 4.5h0m0 5.5h0m1 68.5h0m.5-114.5h0m1.5 37h0m0 37.5h0m2-28h0m.5-33h0m0 78.5h0m0 31.5h0m.5-128h0m1.5 106.5h0m2-109.5h0m2.5 26h0m2-14.5h0m1 41.5h0m3 68.5h0m.5-67.5h0m2.5-71.5h0m.5 100.5h0m.5-62.5h0m0 62h0m.5-51.5h0m1-40h0m1.5 60.5h0m.5-52.5h0m.5-14.5h0m4 31h0m.5-2.5h0m.5 19.5h0m0 15.5h0m1.5-5h0m1-2h0m0 7h0m4.5-64h0m0 103.5h0m.5-24h0m2.5-57h0m2.5 91h0m.5-53.5h0m1-42.5h0m0 40h0m.5-57h0m1 43.5h0m1-28h0m1 3.5h0m.5 29.5h0m2.5-36h0m1 9h0m0 51.5h0m1.5-24h0m2-39h0m2.5-12.5h0m0 17h0m6 6.5h0m0 13h0m.5-4h0m7-22h0m0 58h0m3-58.5h0m.5 29.5h0m3.5-6h0"/>
<path stroke="#000089" d="M729 524.5h0m11 76.5h0m5.5-107h0m27.5-22.5h0m0 114h0m3.5-31.5h0m0 30.5h0m3.5 2.5h0m2.5-28h0m0 .5h0m1-67.5h0m1 90.5h0m1-31h0m4.5 10h0m5-101h0m.5 119.5h0m1.5-6.5h0m.5 8.5h0m3-34.5h0m1 40.5h0m3.5-32.5h0m1.5 12.5h0m1-73h0m2.5 63h0m0 31h0m1.5-71h0m3 13.5h0m3-68.5h0m0 75h0m.5-51h0m.5 31h0m1-41.5h0m2 18.5h0m1 34.5h0m0 16h0m1-73h0m6.5 14.5h0m1-35h0m1.5 77h0m3-31h0m5-30.5h0m1 13h0m.5 6.5h0m.5 54h0m1.5-71h0m.5-6h0m.5 18.5h0m2.5 47.5h0m3-38.5h0m.5-32h0m3 35h0m0 43.5h0m1.5-75h0m6 53.5h0m4.5-16.5h0m3-38h0m0 6.5h0m2.5 31.5h0m1.5-18h0m9.5-12.5h0"/>
<path stroke="#0000a4" d="M723.5 543h0m12 4.5h0m2-19h0m6-6.5h0m.5 62h0m.5-65.5h0m16.5-15h0m2 65.5h0m1.5-73.5h0m.5 3.5h0m15 5.5h0m6.5 33.5h0m5.5-42.5h0m.5 41h0m2.5-25.5h0m0 9h0m3 4h0m1.5-10.5h0m1-35h0m0 9.5h0m2.5 20.5h0m.5-22h0m1-4h0m1.5-8.5h0m1-1.5h0m2 35h0m.5-4.5h0"/>
<path stroke="#00b" d="M721.5 552.5h0m1.5-4h0m4-1h0m4.5 6h0m3 43h0m8.5-59.5h0m2.5 10.5h0m3.5-9.5h0m6-11h0m3-6.5h0m9.5 11.5h0m6.5-15.5h0m5 12h0"/>
<path stroke="#000089" d="M743.5 596.5h0m15-97.5h0m13-10.5h0m16.5-8.5h0m5 26h0m6.5 37.5h0m2-81.5h0m1.5 71.5h0m11-24h0m2.5-24.5h0"/>
<path stroke="#0000a4" d="M727 543.5h0m5.5-5.5h0m2.5-8h0m20-16h0m10-3h0m20.5 5.5h0m2.5 19h0m5-44.5h0m6-10.5h0"/>
<path stroke="#0000d1" d="M732.5 560.5h0m0 27h0m12.5-15h0m4-10h0m8-15.5h0m7.5-3h0m3.5-9h0"/>
<path stroke="#00b" d="M721 559h0m25-27h0m4.5-6h0m7-4h0m1 10.5h0m1.5 27.5h0m1.5-25.5h0m6.5-13h0m.5-7.5h0m2.5 34h0m.5-30.5h0m0 6h0m6.5 2.5h0"/>
<path stroke="#0000ed" d="M719 606h0m4-40h0m1 27.5h0m2.5-11h0m2-8.5h0"/>
<path stroke="#0000a4" d="M744.5 522.5h0m9 49h0m16-63h0m17.5 26.5h0"/>
<path stroke="#00b" d="M735 587.5h0m13-16h0m26.5-34h0m4.5 4h0m5-17.5h0"/>
<path stroke="#0000d1" d="M719.5 564.5h0m25 5h0m15.5-31h0m1 .5h0m0 12.5h0m10-9.5h0"/>
<path stroke="#0000a4" d="M745.5 587.5h0m13-12.5h0m9.5-18.5h0m12-44h0m7.5 21h0m6.5-11.5h0"/>
<path stroke="#0000ed" d="M743 569.5h0m2-4.5h0m.5-2.5h0"/>
<path stroke="#0000d1" d="M739.5 556h0m.5 1.5h0m2 0h0m8.5-1.5h0m2.5-3.5h0"/>
<path stroke="#00b" d="M737 582.5h0m5.5-34.5h0m15 13h0m5.5-33h0m16 6h0"/>
<path stroke="#000089" d="M768 571h0m23.5-96h0"/>
<path stroke="#0000a4" d="M737 540h0m12.5 45.5h0m8.5-8.5h0"/>
<path stroke="#00f" d="M718.5 575.5h0m2.5 18.5h0"/>
<path stroke="#0000d1" d="M739.5 576h0m12.5-18h0"/>
<path stroke="#0000ed" d="M727.5 579.5h0m4-10h0m2.5-5h0m7 6h0"/>
<path stroke="#00b" d="M728.5 603h0"/>
<path stroke="#00f" d="M719.5 587h0"/>
</g>
<g clip-path="url(#t22)">
<path stroke="#d3d3d3" stroke-width="7" d="M770.5 451h0m20.5-27h0m7.5 23.5h0m1.5-24h0m1-1h0m7 6h0m8.5-22h0m1 30h0m1.5 8h0m.5-11h0m1 8.5h0m4-11h0m12.5-41.5h0m4 4h0m3.5 34h0m1 14.5h0m1-48.5h0m6.5 16h0m8-41h0m5.5 33.5h0m.5 19h0m0 22h0m6.5-81.5h0m1 70.5h0m4-29h0m1.5 35.5h0m2.5-11.5h0m2-8.5h0m10 23h0m3-2.5h0"/>
<path stroke="#000089" d="M808 451h0m5-13h0m21 12.5h0m16-5.5h0m6.5 6.5h0m9-16h0m4.5-18.5h0m6 33h0m6-39.5h0m11.5 8h0m3-22.5h0"/>
</g>
<g clip-path="url(#t27)">
<path stroke="#d3d3d3" stroke-width="7" d="M899 462.5h0m11-8.5h0m.5 19h0m.5 20h0m2 21.5h0m7.5-46.5h0"/>
</g>
<g clip-path="url(#t28)">
<path stroke="#d3d3d3" stroke-width="7" d="M900 395.5h0m1 36h0m6-10h0m1-3h0m4-62h0m1 52h0m2 23.5h0m0 12h0m1-62.5h0m.5 49h0m1-32.5h0m.5 48.5h0m1.5-12h0m3-49.5h0m.5-6h0m0 10.5h0m4-44h0m0 65.5h0m.5-8.5h0m9.5-5h0m4.5 25h0m11-72h0m1.5 42.5h0m3-31.5h0m1 35h0m4.5-41h0m0 33.5h0m8 17h0m1-66h0m3 44.5h0m2-17h0m3-12h0m1.5-15.5h0m6.5 72.5h0m4-94h0m0 27h0m3 30h0m6-8h0m6-22h0m3 31h0m0 15.5h0m20-65.5h0m2-22h0m6.5 54h0m19.5 5h0m17-17.5h0"/>
<path stroke="#000089" d="M912.5 381h0m27 12.5h0m4-8h0m1.5 36h0m1.5-19h0m3.5 28.5h0m3-62.5h0m6.5 0h0m12.5 51h0m6.5-30.5h0m25.5 40h0m6-102h0m32 13h0m3 2h0m1-30h0m23 39.5h0"/>
</g>
<g clip-path="url(#t29)">
<path stroke="#d3d3d3" stroke-width="7" d="M1004.5 274.5h0m55.5-8.5h0m11.5-15.5h0"/>
<path stroke="#000089" d="M1053.5 286h0m9-24.5h0m3.5 .5h0"/>
</g>
<g clip-path="url(#t34)">
<path stroke="#d3d3d3" stroke-width="7" d="M1082.5 337.5h0m6-32h0m0 67h0m19-58.5h0m0 .5h0m8.5-5h0m.5 0h0m21-3h0"/>
</g>
<g clip-path="url(#t35)">
<path stroke="#d3d3d3" stroke-width="7" d="M1090 280h0m.5 0h0m7.5-3.5h0m.5-.5h0m8.5-7h0m.5 0h0m6.5-51.5h0m17.5-21h0m1 31h0m20 34.5h0m1-34.5h0m4 32.5h0m8 2h0m2-55.5h0m13.5-46.5h0m4 27h0m9.5-27h0m9 38.5h0"/>
<path stroke="#000089" d="M1080.5 264h0m0 13.5h0m25-54h0m41 61h0m56-121h0"/>
</g>
</g>
</g>
<g stroke="#b0b0b0" stroke-width="2.22" fill="none">
<path d="M356 144V1068M537 144V1068M718 144V1068M898 144V1068M1079 144V1068"/>
<path d="M175 914H1260M175 760H1260M175 606H1260M175 452H1260M175 298H1260"/>
</g>
<g clip-path="url(#ax)" stroke="#000" stroke-width="4.17" fill="none">
<path d="M175 1055.7L1260 120.56" stroke-linecap="square"/>
<path d="M175 1068L1260 144" stroke-dasharray="15.42 6.67"/>
</g>
<g stroke="#000" stroke-width="2.22" fill="none">
<path d="M175 1068v10M356 1068v10M537 1068v10M718 1068v10M898 1068v10M1079 1068v10M1260 1068v10"/>
<path d="M175 1068h-10M175 914h-10M175 760h-10M175 606h-10M175 452h-10M175 298h-10M175 144h-10"/>
<rect x="175" y="144" width="1085" height="924" stroke-linejoin="miter"/>
</g>
<g class="t">
<g text-anchor="middle">
<text x="175" y="1108.6">0</text><text x="355.83" y="1108.6">10</text><text x="536.67" y="1108.6">20</text><text x="717.5" y="1108.6">30</text><text x="898.33" y="1108.6">40</text><text x="1079.17" y="1108.6">50</text><text x="1260" y="1108.6">60</text>
</g>
<g text-anchor="end">
<text x="155.5" y="1078.6">0</text><text x="155.5" y="924.6">10</text><text x="155.5" y="770.6">20</text><text x="155.5" y="616.6">30</text><text x="155.5" y="462.6">40</text><text x="155.5" y="308.6">50</text><text x="155.5" y="154.6">60</text>
</g>
<text x="612" y="1152.6">gfz_ztd [kg/m<tspan class="s" dy="-10.6">2</tspan><tspan dy="10.6" dx="1">]</tspan></text>
<text transform="translate(99.2 707) rotate(-90)">COWA [kg/m<tspan class="s" dy="-10.6">2</tspan><tspan dy="10.6" dx="1">]</tspan></text>
<rect x="873" y="821.3" width="362.6" height="226.8" rx="8.33" fill="#f5deb3" fill-opacity="0.6" stroke="#000" stroke-opacity="0.6" stroke-width="2.78"/>
<g text-anchor="end">
<text x="1218" y="851.6">y = 1.01x + 0.75</text>
<text x="1224.7" y="885.6">r<tspan class="s" dy="-10.6">2</tspan><tspan dy="10.6"> = 0.97</tspan></text>
<text x="1225.7" y="924.6">bias = 0.94 [kg/m<tspan class="s" dy="-10.6">2</tspan><tspan dy="10.6" dx="1">]</tspan></text>
<text x="1226.3" y="965.6">rmsd = 1.6 (1.3) [kg/m<tspan class="s" dy="-10.6">2</tspan><tspan dy="10.6" dx="1">]</tspan></text>
<text x="1218" y="1001.6">n valid = 35198</text>
<text x="1226" y="1033.6">n matchups = 503745</text>
</g>
</g>
</svg>
</body></html>
